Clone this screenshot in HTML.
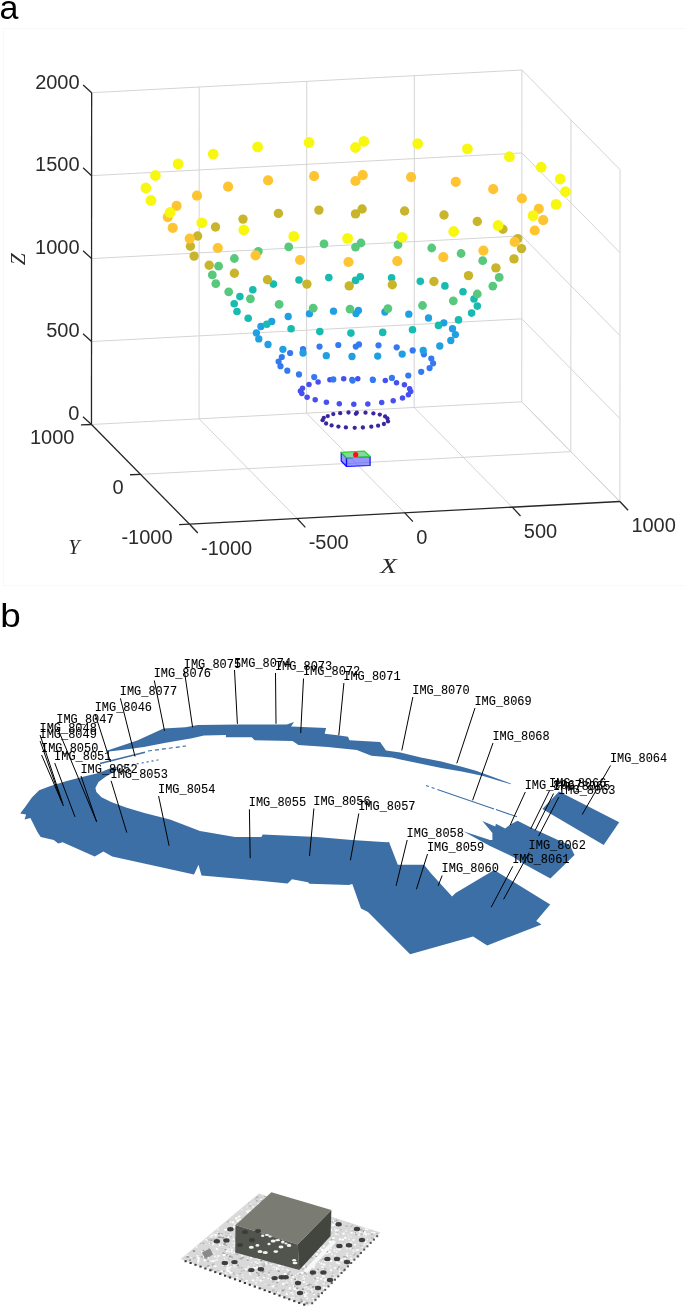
<!DOCTYPE html>
<html><head><meta charset="utf-8"><title>figure</title><style>
html,body{margin:0;padding:0;background:#fff;}
body{width:685px;height:1306px;overflow:hidden;}
svg{display:block;filter:blur(0.4px);}
</style></head><body>
<svg width="685" height="1306" viewBox="0 0 685 1306">
<rect x="3.5" y="28.5" width="682" height="557" fill="none" stroke="#f9f9f9" stroke-width="1"/>
<text x="-0.5" y="19" font-family="Liberation Sans, sans-serif" font-size="34" fill="#000">a</text>
<text transform="translate(0.3,627) scale(1.1,1)" font-family="Liberation Sans, sans-serif" font-size="33.5" fill="#000">b</text>
<line x1="199.05" y1="418.82" x2="199.21" y2="87.03" stroke="#d4d4d4" stroke-width="1.0"/>
<line x1="199.05" y1="418.82" x2="297.16" y2="518.52" stroke="#d4d4d4" stroke-width="1.0"/>
<line x1="306.62" y1="413.15" x2="306.78" y2="81.35" stroke="#d4d4d4" stroke-width="1.0"/>
<line x1="306.62" y1="413.15" x2="404.73" y2="512.85" stroke="#d4d4d4" stroke-width="1.0"/>
<line x1="414.19" y1="407.48" x2="414.35" y2="75.68" stroke="#d4d4d4" stroke-width="1.0"/>
<line x1="414.19" y1="407.48" x2="512.3" y2="507.18" stroke="#d4d4d4" stroke-width="1.0"/>
<line x1="521.76" y1="401.8" x2="521.92" y2="70.0" stroke="#d4d4d4" stroke-width="1.0"/>
<line x1="521.76" y1="401.8" x2="619.88" y2="501.5" stroke="#d4d4d4" stroke-width="1.0"/>
<line x1="91.48" y1="424.5" x2="521.76" y2="401.8" stroke="#d4d4d4" stroke-width="1.0"/>
<line x1="521.76" y1="401.8" x2="619.88" y2="501.5" stroke="#d4d4d4" stroke-width="1.0"/>
<line x1="91.52" y1="341.55" x2="521.8" y2="318.85" stroke="#d4d4d4" stroke-width="1.0"/>
<line x1="521.8" y1="318.85" x2="619.92" y2="418.55" stroke="#d4d4d4" stroke-width="1.0"/>
<line x1="91.56" y1="258.6" x2="521.84" y2="235.9" stroke="#d4d4d4" stroke-width="1.0"/>
<line x1="521.84" y1="235.9" x2="619.96" y2="335.6" stroke="#d4d4d4" stroke-width="1.0"/>
<line x1="91.6" y1="175.65" x2="521.88" y2="152.95" stroke="#d4d4d4" stroke-width="1.0"/>
<line x1="521.88" y1="152.95" x2="620.0" y2="252.65" stroke="#d4d4d4" stroke-width="1.0"/>
<line x1="91.64" y1="92.7" x2="521.92" y2="70.0" stroke="#d4d4d4" stroke-width="1.0"/>
<line x1="521.92" y1="70.0" x2="620.04" y2="169.7" stroke="#d4d4d4" stroke-width="1.0"/>
<line x1="570.82" y1="451.65" x2="570.98" y2="119.85" stroke="#d4d4d4" stroke-width="1.0"/>
<line x1="619.88" y1="501.5" x2="620.04" y2="169.7" stroke="#d4d4d4" stroke-width="1.0"/>
<line x1="140.53" y1="474.35" x2="570.82" y2="451.65" stroke="#d4d4d4" stroke-width="1.0"/>
<line x1="91.48" y1="424.5" x2="91.64" y2="92.7" stroke="#262626" stroke-width="1.3"/>
<line x1="91.48" y1="424.5" x2="189.59" y2="524.2" stroke="#262626" stroke-width="1.3"/>
<line x1="189.59" y1="524.2" x2="619.88" y2="501.5" stroke="#262626" stroke-width="1.3"/>
<line x1="91.48" y1="424.5" x2="82.98" y2="416.7" stroke="#262626" stroke-width="1.3"/>
<line x1="91.52" y1="341.55" x2="83.02" y2="333.75" stroke="#262626" stroke-width="1.3"/>
<line x1="91.56" y1="258.6" x2="83.06" y2="250.8" stroke="#262626" stroke-width="1.3"/>
<line x1="91.6" y1="175.65" x2="83.1" y2="167.85" stroke="#262626" stroke-width="1.3"/>
<line x1="91.64" y1="92.7" x2="83.14" y2="84.9" stroke="#262626" stroke-width="1.3"/>
<line x1="189.59" y1="524.2" x2="179.09" y2="524.6" stroke="#262626" stroke-width="1.3"/>
<line x1="140.53" y1="474.35" x2="130.03" y2="474.75" stroke="#262626" stroke-width="1.3"/>
<line x1="91.48" y1="424.5" x2="80.98" y2="424.9" stroke="#262626" stroke-width="1.3"/>
<line x1="189.59" y1="524.2" x2="197.79" y2="533.0" stroke="#262626" stroke-width="1.3"/>
<line x1="297.16" y1="518.52" x2="305.36" y2="527.3199999999999" stroke="#262626" stroke-width="1.3"/>
<line x1="404.73" y1="512.85" x2="412.93" y2="521.65" stroke="#262626" stroke-width="1.3"/>
<line x1="512.3" y1="507.18" x2="520.5" y2="515.98" stroke="#262626" stroke-width="1.3"/>
<line x1="619.88" y1="501.5" x2="628.08" y2="510.3" stroke="#262626" stroke-width="1.3"/>
<text x="79.48" y="420.3" text-anchor="end" font-family="Liberation Sans, sans-serif" font-size="20" fill="#2b2b2b">0</text>
<text x="79.52" y="337.35" text-anchor="end" font-family="Liberation Sans, sans-serif" font-size="20" fill="#2b2b2b">500</text>
<text x="79.56" y="254.40000000000003" text-anchor="end" font-family="Liberation Sans, sans-serif" font-size="20" fill="#2b2b2b">1000</text>
<text x="79.6" y="171.45000000000002" text-anchor="end" font-family="Liberation Sans, sans-serif" font-size="20" fill="#2b2b2b">1500</text>
<text x="79.64" y="88.5" text-anchor="end" font-family="Liberation Sans, sans-serif" font-size="20" fill="#2b2b2b">2000</text>
<text x="172.59" y="543.7" text-anchor="end" font-family="Liberation Sans, sans-serif" font-size="20" fill="#2b2b2b">-1000</text>
<text x="123.53" y="493.85" text-anchor="end" font-family="Liberation Sans, sans-serif" font-size="20" fill="#2b2b2b">0</text>
<text x="74.48" y="444.0" text-anchor="end" font-family="Liberation Sans, sans-serif" font-size="20" fill="#2b2b2b">1000</text>
<text x="201.09" y="555.0" font-family="Liberation Sans, sans-serif" font-size="20" fill="#2b2b2b">-1000</text>
<text x="308.66" y="549.3199999999999" font-family="Liberation Sans, sans-serif" font-size="20" fill="#2b2b2b">-500</text>
<text x="416.23" y="543.65" font-family="Liberation Sans, sans-serif" font-size="20" fill="#2b2b2b">0</text>
<text x="523.8" y="537.98" font-family="Liberation Sans, sans-serif" font-size="20" fill="#2b2b2b">500</text>
<text x="631.38" y="532.3" font-family="Liberation Sans, sans-serif" font-size="20" fill="#2b2b2b">1000</text>
<text transform="translate(380.2,573) scale(1.3,1)" font-family="Liberation Serif, serif" font-style="italic" font-size="21" fill="#2b2b2b">X</text>
<text x="68.3" y="553.6" font-family="Liberation Serif, serif" font-style="italic" font-size="20.5" fill="#2b2b2b">Y</text>
<text transform="translate(24.6,265.2) rotate(-90)" font-family="Liberation Serif, serif" font-style="italic" font-size="21.5" fill="#2b2b2b">Z</text>
<g fill="#3a27a0"><circle cx="348.5" cy="412.5" r="2.15"/><circle cx="365.5" cy="412.7" r="2.15"/><circle cx="356.8" cy="412.7" r="2.15"/><circle cx="340.2" cy="413.2" r="2.15"/><circle cx="373.4" cy="413.4" r="2.15"/><circle cx="355.9" cy="413.8" r="2.15"/><circle cx="333.3" cy="414.1" r="2.15"/><circle cx="379.8" cy="414.6" r="2.15"/><circle cx="327.8" cy="416.1" r="2.15"/><circle cx="385.1" cy="416.4" r="2.15"/><circle cx="323.8" cy="417.8" r="2.15"/><circle cx="387.4" cy="418.4" r="2.15"/><circle cx="322.6" cy="420.2" r="2.15"/><circle cx="388" cy="421.4" r="2.15"/><circle cx="326.1" cy="423.5" r="2.15"/><circle cx="383.9" cy="424" r="2.15"/><circle cx="331.6" cy="425.4" r="2.15"/><circle cx="378.1" cy="425.7" r="2.15"/><circle cx="338.4" cy="426.6" r="2.15"/><circle cx="371.3" cy="426.7" r="2.15"/><circle cx="345.9" cy="427.4" r="2.15"/><circle cx="362.9" cy="427.5" r="2.15"/><circle cx="354.7" cy="427.8" r="2.15"/></g>
<g fill="#4650f0"><circle cx="357.8" cy="378.7" r="2.75"/><circle cx="343.7" cy="378.7" r="2.75"/><circle cx="372.6" cy="379.2" r="2.75"/><circle cx="352" cy="379.6" r="2.75"/><circle cx="329.9" cy="379.8" r="2.75"/><circle cx="385.3" cy="380.6" r="2.75"/><circle cx="318.1" cy="382.1" r="2.75"/><circle cx="396.5" cy="382.7" r="2.75"/><circle cx="309.0" cy="384.5" r="2.75"/><circle cx="404.4" cy="384.7" r="2.75"/><circle cx="302.5" cy="388.2" r="2.75"/><circle cx="409.6" cy="388.7" r="2.75"/><circle cx="300.4" cy="391.0" r="2.75"/><circle cx="410.7" cy="391.6" r="2.75"/><circle cx="301.8" cy="393.5" r="2.75"/><circle cx="408.4" cy="394.8" r="2.75"/><circle cx="307.1" cy="397.3" r="2.75"/><circle cx="402.5" cy="398.0" r="2.75"/><circle cx="315.2" cy="399.7" r="2.75"/><circle cx="393.2" cy="400.7" r="2.75"/><circle cx="326.4" cy="402.2" r="2.75"/><circle cx="381.7" cy="402.6" r="2.75"/><circle cx="339.3" cy="403.7" r="2.75"/><circle cx="367.8" cy="403.9" r="2.75"/><circle cx="353.8" cy="404.3" r="2.75"/></g>
<g fill="#3579f0"><circle cx="359" cy="344.4" r="3.1"/><circle cx="338.3" cy="345" r="3.1"/><circle cx="378.5" cy="345.3" r="3.1"/><circle cx="355.8" cy="346.6" r="3.1"/><circle cx="319.5" cy="346.6" r="3.1"/><circle cx="396.7" cy="347.3" r="3.1"/><circle cx="303" cy="349" r="3.1"/><circle cx="412.7" cy="350.4" r="3.1"/><circle cx="290.1" cy="353" r="3.1"/><circle cx="423.9" cy="354.3" r="3.1"/><circle cx="281.8" cy="357" r="3.1"/><circle cx="431.3" cy="358.5" r="3.1"/><circle cx="278.6" cy="361.5" r="3.1"/><circle cx="433.1" cy="363.3" r="3.1"/><circle cx="280.5" cy="366.2" r="3.1"/><circle cx="429.6" cy="368.1" r="3.1"/><circle cx="287.3" cy="370.7" r="3.1"/><circle cx="421.2" cy="371.8" r="3.1"/><circle cx="299" cy="374.4" r="3.1"/><circle cx="408.3" cy="375.5" r="3.1"/><circle cx="314.2" cy="377.1" r="3.1"/><circle cx="391.9" cy="377.9" r="3.1"/><circle cx="333.3" cy="379.4" r="3.1"/><circle cx="372.9" cy="380.0" r="3.1"/><circle cx="352.6" cy="380.6" r="3.1"/></g>
<g fill="#20a0e2"><circle cx="358.4" cy="310.4" r="3.65"/><circle cx="333.5" cy="311.2" r="3.65"/><circle cx="384.9" cy="312.0" r="3.65"/><circle cx="356" cy="313.6" r="3.65"/><circle cx="309.4" cy="313.7" r="3.65"/><circle cx="408.8" cy="314.2" r="3.65"/><circle cx="288.2" cy="316.5" r="3.65"/><circle cx="428.5" cy="318.0" r="3.65"/><circle cx="271.7" cy="321.4" r="3.65"/><circle cx="443.8" cy="322.8" r="3.65"/><circle cx="260.9" cy="326.5" r="3.65"/><circle cx="452.5" cy="328.7" r="3.65"/><circle cx="256.4" cy="332.9" r="3.65"/><circle cx="455.4" cy="334.6" r="3.65"/><circle cx="258.8" cy="338.9" r="3.65"/><circle cx="450.8" cy="340.5" r="3.65"/><circle cx="268" cy="344.5" r="3.65"/><circle cx="439.8" cy="346.0" r="3.65"/><circle cx="282.9" cy="349.3" r="3.65"/><circle cx="423.2" cy="350.4" r="3.65"/><circle cx="303" cy="353" r="3.65"/><circle cx="402.2" cy="354.1" r="3.65"/><circle cx="326.3" cy="355.7" r="3.65"/><circle cx="377.7" cy="356.1" r="3.65"/><circle cx="352" cy="356.5" r="3.65"/></g>
<g fill="#17bbb0"><circle cx="360.3" cy="276.7" r="3.8"/><circle cx="328.8" cy="277.6" r="3.8"/><circle cx="391.6" cy="277.8" r="3.8"/><circle cx="299.0" cy="280.0" r="3.8"/><circle cx="355.5" cy="280.4" r="3.8"/><circle cx="420.3" cy="281.3" r="3.8"/><circle cx="273.4" cy="284.1" r="3.8"/><circle cx="444.9" cy="285.9" r="3.8"/><circle cx="252.8" cy="289.8" r="3.8"/><circle cx="463.0" cy="291.8" r="3.8"/><circle cx="239.9" cy="296.6" r="3.8"/><circle cx="474.0" cy="299.0" r="3.8"/><circle cx="234.2" cy="303.8" r="3.8"/><circle cx="477.3" cy="306.1" r="3.8"/><circle cx="237.0" cy="311.5" r="3.8"/><circle cx="471.6" cy="313.1" r="3.8"/><circle cx="248.2" cy="318.2" r="3.8"/><circle cx="458.5" cy="319.9" r="3.8"/><circle cx="266.8" cy="324.2" r="3.8"/><circle cx="438.5" cy="325.4" r="3.8"/><circle cx="291.1" cy="328.8" r="3.8"/><circle cx="412.5" cy="329.8" r="3.8"/><circle cx="319.8" cy="331.6" r="3.8"/><circle cx="382.7" cy="332.4" r="3.8"/><circle cx="350.9" cy="333.1" r="3.8"/></g>
<g fill="#58c87c"><circle cx="361.0" cy="243.0" r="4.4"/><circle cx="324.0" cy="243.8" r="4.4"/><circle cx="398.0" cy="244.7" r="4.4"/><circle cx="288.7" cy="246.9" r="4.4"/><circle cx="355.5" cy="247.1" r="4.4"/><circle cx="431.7" cy="248.0" r="4.4"/><circle cx="258.3" cy="251.3" r="4.4"/><circle cx="461.1" cy="253.5" r="4.4"/><circle cx="234.4" cy="258.5" r="4.4"/><circle cx="482.7" cy="260.7" r="4.4"/><circle cx="218.6" cy="266.2" r="4.4"/><circle cx="212.3" cy="274.9" r="4.4"/><circle cx="499.2" cy="277.3" r="4.4"/><circle cx="215.8" cy="283.7" r="4.4"/><circle cx="492.8" cy="286.1" r="4.4"/><circle cx="228.7" cy="291.8" r="4.4"/><circle cx="477.3" cy="294.0" r="4.4"/><circle cx="250.4" cy="298.8" r="4.4"/><circle cx="453.3" cy="300.8" r="4.4"/><circle cx="279.1" cy="304.3" r="4.4"/><circle cx="422.5" cy="305.5" r="4.4"/><circle cx="313.2" cy="308.2" r="4.4"/><circle cx="387.9" cy="308.6" r="4.4"/><circle cx="350.0" cy="309.1" r="4.4"/></g>
<g fill="#c8b52c"><circle cx="362.1" cy="209.0" r="4.7"/><circle cx="318.9" cy="210.1" r="4.7"/><circle cx="404.6" cy="211.0" r="4.7"/><circle cx="278.4" cy="213.4" r="4.7"/><circle cx="355.5" cy="213.9" r="4.7"/><circle cx="444.0" cy="215.0" r="4.7"/><circle cx="243.0" cy="219.1" r="4.7"/><circle cx="477.3" cy="221.5" r="4.7"/><circle cx="215.5" cy="227" r="4.7"/><circle cx="502.9" cy="229.2" r="4.7"/><circle cx="197.6" cy="236.0" r="4.7"/><circle cx="517.8" cy="238.6" r="4.7"/><circle cx="190.4" cy="246.2" r="4.7"/><circle cx="521.5" cy="248.6" r="4.7"/><circle cx="194.1" cy="256.1" r="4.7"/><circle cx="514.0" cy="258.9" r="4.7"/><circle cx="209.2" cy="265.3" r="4.7"/><circle cx="495.9" cy="267.9" r="4.7"/><circle cx="234.4" cy="273.2" r="4.7"/><circle cx="468.5" cy="275.6" r="4.7"/><circle cx="267.5" cy="279.7" r="4.7"/><circle cx="433.9" cy="281.5" r="4.7"/><circle cx="306.9" cy="284.1" r="4.7"/><circle cx="392.3" cy="284.8" r="4.7"/><circle cx="349.2" cy="285.9" r="4.7"/></g>
<g fill="#fec432"><circle cx="362.7" cy="175.1" r="5.1"/><circle cx="314.1" cy="176.2" r="5.1"/><circle cx="411.1" cy="177.1" r="5.1"/><circle cx="268.1" cy="180.4" r="5.1"/><circle cx="355.5" cy="181.0" r="5.1"/><circle cx="455.8" cy="181.9" r="5.1"/><circle cx="228.1" cy="186.7" r="5.1"/><circle cx="493.2" cy="189.1" r="5.1"/><circle cx="197.0" cy="195.7" r="5.1"/><circle cx="521.9" cy="198.5" r="5.1"/><circle cx="176.6" cy="205.8" r="5.1"/><circle cx="538.8" cy="208.8" r="5.1"/><circle cx="167.8" cy="217.1" r="5.1"/><circle cx="543.2" cy="220.2" r="5.1"/><circle cx="172.7" cy="227.8" r="5.1"/><circle cx="534.7" cy="230.5" r="5.1"/><circle cx="189.7" cy="238.6" r="5.1"/><circle cx="514.7" cy="241.9" r="5.1"/><circle cx="217.8" cy="248.0" r="5.1"/><circle cx="483.4" cy="250.6" r="5.1"/><circle cx="255.6" cy="255.4" r="5.1"/><circle cx="443.3" cy="257.2" r="5.1"/><circle cx="300.1" cy="260.0" r="5.1"/><circle cx="397.3" cy="261.1" r="5.1"/><circle cx="348.5" cy="262.0" r="5.1"/></g>
<g fill="#f7f70f"><circle cx="363.8" cy="141.4" r="5.4"/><circle cx="309.1" cy="142.5" r="5.4"/><circle cx="417.7" cy="143.6" r="5.4"/><circle cx="257.6" cy="146.9" r="5.4"/><circle cx="355.5" cy="147.5" r="5.4"/><circle cx="467.4" cy="148.8" r="5.4"/><circle cx="213.2" cy="154.1" r="5.4"/><circle cx="509.4" cy="156.7" r="5.4"/><circle cx="178.1" cy="163.9" r="5.4"/><circle cx="541.2" cy="167.2" r="5.4"/><circle cx="155.4" cy="175.5" r="5.4"/><circle cx="560.2" cy="179.0" r="5.4"/><circle cx="145.9" cy="188.0" r="5.4"/><circle cx="565.5" cy="191.7" r="5.4"/><circle cx="151.0" cy="200.5" r="5.4"/><circle cx="556.1" cy="204.4" r="5.4"/><circle cx="170.0" cy="212.5" r="5.4"/><circle cx="533.1" cy="215.6" r="5.4"/><circle cx="201.8" cy="222.8" r="5.4"/><circle cx="498.1" cy="225.5" r="5.4"/><circle cx="243.8" cy="230" r="5.4"/><circle cx="453.7" cy="231.5" r="5.4"/><circle cx="293.8" cy="236.4" r="5.4"/><circle cx="402.1" cy="237.3" r="5.4"/><circle cx="347.6" cy="238.4" r="5.4"/></g>
<g stroke-width="1.2" stroke-linejoin="round">
<polygon points="341.2,452.3 346.5,457.8 346.5,466.5 341.2,461" fill="#5050ff" fill-opacity="0.6" stroke="#1010ff"/>
<polygon points="346.5,457.8 370.1,456.5 370.1,465.5 346.5,466.5" fill="#5050ff" fill-opacity="0.6" stroke="#1010ff"/>
<polygon points="341.2,452.3 364.4,451.2 370.1,456.5 346.5,457.8" fill="#70c890" fill-opacity="0.8" stroke="#22dd22"/>
<circle cx="355.7" cy="454.7" r="2.6" fill="#ff1010"/>
</g>
<polygon points="105,751 108.8,749.9 137.2,740.5 163.5,728.5 181,727.4 185.5,727.3 197.8,724.9 240,724.5 286.7,724.5 294,722.1 291.1,726.5 326.1,728 324.7,733.8 337.8,735.3 348,736.7 349.5,740.2 380.1,742 386,750.5 400.4,752.4 420.9,757.5 441.3,761.6 461.7,766.7 476,770.8 510.8,783.6 510.8,784.2 482.2,775.8 461.7,771.6 441.3,767.9 420.9,763.8 400.4,759.6 391.8,757.6 371.4,755.7 356.8,749.9 327.6,746.9 298.4,744.9 292.6,741.1 254.6,740.2 251.7,737.3 225.9,737.2 225.9,735 204,735.5 192,738.3 165.7,742.7 143.8,747.1 121.9,749.9 108.8,751.5" fill="#3c6fa6"/>
<polygon points="117,766.8 109.7,768.6 99.5,772.7 83.1,776.8 66.8,780.9 50.4,786 39.2,790.2 31.9,797.5 24.6,807.7 20.2,813.6 26.1,814.5 24.6,819.4 30.4,818 37.7,832.6 40.7,836.9 53.8,839.9 58.2,843.6 62.6,842.2 94.7,856.5 103.4,851.5 112.2,856.5 146.4,864 194,874.5 198.5,864.8 201.5,875.5 243.8,879.3 287.6,883.6 292,879.3 308,882.2 309.5,883.8 348.9,885.1 352.3,884.1 361,908.6 368,912.1 410.1,954.2 473.1,936.6 487.2,945.4 541.5,924.4 536.2,920.9 550.2,904.4 494.2,870.1 455.6,892.9 452.1,896.4 431.1,873.6 424.1,864.8 397.8,864.8 389,842 386.9,842.2 351.8,839.9 316.8,836.9 262.8,834.6 261.3,836.9 235,836.9 200,831 170,819.5 144.4,813 126,807.6 111.7,802.3 101.5,797.2 96.4,792.1 95.4,788 98.5,781.9 105.6,776.8 115.8,770.7" fill="#3c6fa6"/>
<polygon points="482.4,821.1 495.3,826.6 495.9,823.7 505.2,828.4 509.9,824.8 517.5,820.8 535,829.5 570,845.4 574.5,855.1 550.4,878.4 523.4,863.8 513.4,857 490,845.9 463.2,831.3 490,840 492.4,840 492.4,833" fill="#3c6fa6"/>
<polygon points="559,791.6 619.2,822.2 603.7,845 542.4,809.1" fill="#3c6fa6"/>
<g stroke="#3c6fa6" fill="none">
<line x1="100" y1="763.5" x2="145" y2="752.3" stroke-width="1.6"/>
<line x1="148" y1="751" x2="186" y2="746" stroke-width="1.2" stroke-dasharray="4 3"/>
<line x1="122" y1="766.6" x2="161" y2="759.4" stroke-width="1.2" stroke-dasharray="2 3"/>
<line x1="426" y1="785.6" x2="517" y2="816.8" stroke-width="1.1" stroke-dasharray="3 3 3 3 60 2 200"/>
</g>
<g stroke="#000" stroke-width="1">
<line x1="154.29999999999998" y1="680.5" x2="164.5" y2="730.8"/>
<line x1="184.4" y1="671.0" x2="192.6" y2="727.3"/>
<line x1="234.5" y1="670.0" x2="237.4" y2="723.8"/>
<line x1="275.5" y1="673.0" x2="276" y2="723.8"/>
<line x1="303.5" y1="678.5" x2="300.7" y2="733"/>
<line x1="343.90000000000003" y1="683.0" x2="338.8" y2="735.3"/>
<line x1="412.90000000000003" y1="697.0" x2="401.8" y2="750.4"/>
<line x1="475.0" y1="708.0" x2="456.8" y2="763.4"/>
<line x1="493.0" y1="743.0" x2="472.6" y2="800.3"/>
<line x1="120.39999999999999" y1="698.3" x2="135" y2="756.5"/>
<line x1="95.3" y1="714.6" x2="110.4" y2="761.8"/>
<line x1="56.9" y1="726.5" x2="96.6" y2="821.7"/>
<line x1="40.1" y1="735.0" x2="62.9" y2="804"/>
<line x1="40.1" y1="741.0" x2="61.3" y2="800.8"/>
<line x1="41.6" y1="755.0" x2="63.5" y2="806"/>
<line x1="54.7" y1="763.0" x2="75" y2="816.9"/>
<line x1="81.0" y1="776.0" x2="96.6" y2="821.7"/>
<line x1="111.1" y1="780.8" x2="126.8" y2="832.6"/>
<line x1="158.6" y1="796.0" x2="169.1" y2="845.7"/>
<line x1="249.4" y1="809.3" x2="250.2" y2="858.2"/>
<line x1="313.90000000000003" y1="808.5" x2="309.5" y2="855.9"/>
<line x1="358.8" y1="813.5" x2="350.4" y2="860.3"/>
<line x1="407.20000000000005" y1="840.0" x2="396.1" y2="885.8"/>
<line x1="427.5" y1="854.0" x2="416.4" y2="889.3"/>
<line x1="442.20000000000005" y1="875.5" x2="438.1" y2="885.8"/>
<line x1="512.8000000000001" y1="866.3" x2="491.2" y2="907.2"/>
<line x1="529.2" y1="852.5" x2="503.6" y2="899.3"/>
<line x1="610.5" y1="765.5" x2="582.2" y2="814.5"/>
<line x1="525.3000000000001" y1="792.0" x2="510.2" y2="825.1"/>
<line x1="549.6" y1="790.5" x2="530.6" y2="829"/>
<line x1="553.6" y1="793.5" x2="535.2" y2="830.3"/>
<line x1="558.8000000000001" y1="797.2" x2="538.5" y2="836.2"/>
</g>
<g font-family="Liberation Mono, monospace" font-size="13.2" fill="#000" stroke="#000" stroke-width="0.1">
<text x="153.7" y="677.2" textLength="57.3" lengthAdjust="spacingAndGlyphs">IMG_8076</text>
<text x="183.8" y="667.7" textLength="57.3" lengthAdjust="spacingAndGlyphs">IMG_8075</text>
<text x="233.9" y="666.7" textLength="57.3" lengthAdjust="spacingAndGlyphs">IMG_8074</text>
<text x="274.9" y="669.7" textLength="57.3" lengthAdjust="spacingAndGlyphs">IMG_8073</text>
<text x="302.9" y="675.2" textLength="57.3" lengthAdjust="spacingAndGlyphs">IMG_8072</text>
<text x="343.3" y="679.7" textLength="57.3" lengthAdjust="spacingAndGlyphs">IMG_8071</text>
<text x="412.3" y="693.7" textLength="57.3" lengthAdjust="spacingAndGlyphs">IMG_8070</text>
<text x="474.4" y="704.7" textLength="57.3" lengthAdjust="spacingAndGlyphs">IMG_8069</text>
<text x="492.4" y="739.7" textLength="57.3" lengthAdjust="spacingAndGlyphs">IMG_8068</text>
<text x="119.8" y="695.0" textLength="57.3" lengthAdjust="spacingAndGlyphs">IMG_8077</text>
<text x="94.7" y="711.3" textLength="57.3" lengthAdjust="spacingAndGlyphs">IMG_8046</text>
<text x="56.3" y="723.2" textLength="57.3" lengthAdjust="spacingAndGlyphs">IMG_8047</text>
<text x="39.5" y="731.7" textLength="57.3" lengthAdjust="spacingAndGlyphs">IMG_8048</text>
<text x="39.5" y="737.7" textLength="57.3" lengthAdjust="spacingAndGlyphs">IMG_8049</text>
<text x="41" y="751.7" textLength="57.3" lengthAdjust="spacingAndGlyphs">IMG_8050</text>
<text x="54.1" y="759.7" textLength="57.3" lengthAdjust="spacingAndGlyphs">IMG_8051</text>
<text x="80.4" y="772.7" textLength="57.3" lengthAdjust="spacingAndGlyphs">IMG_8052</text>
<text x="110.5" y="777.5" textLength="57.3" lengthAdjust="spacingAndGlyphs">IMG_8053</text>
<text x="158" y="792.7" textLength="57.3" lengthAdjust="spacingAndGlyphs">IMG_8054</text>
<text x="248.8" y="806.0" textLength="57.3" lengthAdjust="spacingAndGlyphs">IMG_8055</text>
<text x="313.3" y="805.2" textLength="57.3" lengthAdjust="spacingAndGlyphs">IMG_8056</text>
<text x="358.2" y="810.2" textLength="57.3" lengthAdjust="spacingAndGlyphs">IMG_8057</text>
<text x="406.6" y="836.7" textLength="57.3" lengthAdjust="spacingAndGlyphs">IMG_8058</text>
<text x="426.9" y="850.7" textLength="57.3" lengthAdjust="spacingAndGlyphs">IMG_8059</text>
<text x="441.6" y="872.2" textLength="57.3" lengthAdjust="spacingAndGlyphs">IMG_8060</text>
<text x="512.2" y="863.0" textLength="57.3" lengthAdjust="spacingAndGlyphs">IMG_8061</text>
<text x="528.6" y="849.2" textLength="57.3" lengthAdjust="spacingAndGlyphs">IMG_8062</text>
<text x="609.9" y="762.2" textLength="57.3" lengthAdjust="spacingAndGlyphs">IMG_8064</text>
<text x="524.7" y="788.7" textLength="57.3" lengthAdjust="spacingAndGlyphs">IMG_8067</text>
<text x="549" y="787.2" textLength="57.3" lengthAdjust="spacingAndGlyphs">IMG_8066</text>
<text x="553" y="790.2" textLength="57.3" lengthAdjust="spacingAndGlyphs">IMG_8065</text>
<text x="558.2" y="793.9" textLength="57.3" lengthAdjust="spacingAndGlyphs">IMG_8063</text>
</g>
<polygon points="180.6,1258.9 259.0,1193.5 380.4,1232.4 309.0,1306.0" fill="#d9d9d9"/>
<g><rect x="280.8" y="1241.5" width="2.4" height="1.9" fill="#ffffff"/><rect x="289.8" y="1242.0" width="2.4" height="1.9" fill="#f5f5f5"/><rect x="320.1" y="1232.6" width="2.4" height="1.9" fill="#ffffff"/><rect x="226.5" y="1267.0" width="2.4" height="1.9" fill="#ffffff"/><rect x="351.3" y="1256.4" width="1.2" height="1.0" fill="#f5f5f5"/><rect x="292.0" y="1293.5" width="1.6" height="1.3" fill="#ffffff"/><rect x="336.9" y="1256.8" width="2.0" height="1.6" fill="#ffffff"/><rect x="300.6" y="1221.5" width="2.0" height="1.6" fill="#eeeeee"/><rect x="294.4" y="1236.4" width="2.0" height="1.6" fill="#ffffff"/><rect x="274.5" y="1240.2" width="2.0" height="1.6" fill="#ffffff"/><rect x="238.6" y="1258.1" width="1.2" height="1.0" fill="#b5b5b5"/><rect x="249.3" y="1211.7" width="1.2" height="1.0" fill="#c4c4c4"/><rect x="317.3" y="1270.8" width="1.2" height="1.0" fill="#ffffff"/><rect x="279.3" y="1206.7" width="2.4" height="1.9" fill="#ffffff"/><rect x="282.5" y="1228.0" width="1.2" height="1.0" fill="#c4c4c4"/><rect x="268.1" y="1271.7" width="2.0" height="1.6" fill="#b5b5b5"/><rect x="217.7" y="1241.0" width="1.2" height="1.0" fill="#c4c4c4"/><rect x="252.6" y="1218.2" width="1.2" height="1.0" fill="#ffffff"/><rect x="276.9" y="1247.1" width="2.4" height="1.9" fill="#eeeeee"/><rect x="319.7" y="1214.3" width="2.4" height="1.9" fill="#f5f5f5"/><rect x="271.9" y="1281.0" width="1.6" height="1.3" fill="#c4c4c4"/><rect x="248.4" y="1202.4" width="1.2" height="1.0" fill="#b5b5b5"/><rect x="238.0" y="1242.4" width="1.2" height="1.0" fill="#ffffff"/><rect x="322.9" y="1289.8" width="1.2" height="1.0" fill="#b5b5b5"/><rect x="303.8" y="1271.7" width="2.4" height="1.9" fill="#b5b5b5"/><rect x="197.0" y="1256.4" width="1.2" height="1.0" fill="#eeeeee"/><rect x="285.4" y="1261.1" width="1.6" height="1.3" fill="#ffffff"/><rect x="338.4" y="1268.6" width="2.4" height="1.9" fill="#f5f5f5"/><rect x="216.0" y="1257.2" width="1.6" height="1.3" fill="#eeeeee"/><rect x="285.4" y="1281.8" width="2.4" height="1.9" fill="#eeeeee"/><rect x="337.5" y="1256.6" width="1.2" height="1.0" fill="#c4c4c4"/><rect x="196.9" y="1261.2" width="1.6" height="1.3" fill="#b5b5b5"/><rect x="304.3" y="1265.8" width="2.4" height="1.9" fill="#c4c4c4"/><rect x="231.7" y="1260.8" width="1.6" height="1.3" fill="#ffffff"/><rect x="252.9" y="1232.0" width="2.0" height="1.6" fill="#ffffff"/><rect x="278.2" y="1207.5" width="1.2" height="1.0" fill="#ffffff"/><rect x="249.3" y="1241.4" width="1.2" height="1.0" fill="#ffffff"/><rect x="231.7" y="1242.5" width="1.2" height="1.0" fill="#f5f5f5"/><rect x="294.7" y="1215.0" width="1.6" height="1.3" fill="#9a9a9a"/><rect x="324.9" y="1221.8" width="2.0" height="1.6" fill="#ffffff"/><rect x="341.4" y="1223.4" width="1.2" height="1.0" fill="#ffffff"/><rect x="297.3" y="1231.0" width="1.6" height="1.3" fill="#9a9a9a"/><rect x="314.3" y="1300.4" width="1.2" height="1.0" fill="#9a9a9a"/><rect x="349.3" y="1247.7" width="2.0" height="1.6" fill="#f5f5f5"/><rect x="277.8" y="1228.7" width="2.4" height="1.9" fill="#ffffff"/><rect x="304.0" y="1301.2" width="1.2" height="1.0" fill="#ffffff"/><rect x="289.1" y="1261.4" width="1.2" height="1.0" fill="#ffffff"/><rect x="240.7" y="1220.4" width="2.4" height="1.9" fill="#b5b5b5"/><rect x="302.6" y="1265.5" width="2.4" height="1.9" fill="#ffffff"/><rect x="280.7" y="1243.2" width="2.0" height="1.6" fill="#ffffff"/><rect x="293.5" y="1253.4" width="1.2" height="1.0" fill="#eeeeee"/><rect x="290.5" y="1239.6" width="2.0" height="1.6" fill="#ffffff"/><rect x="322.2" y="1274.4" width="1.6" height="1.3" fill="#f5f5f5"/><rect x="303.5" y="1230.8" width="2.4" height="1.9" fill="#9a9a9a"/><rect x="262.7" y="1265.6" width="2.0" height="1.6" fill="#c4c4c4"/><rect x="239.3" y="1239.4" width="1.6" height="1.3" fill="#eeeeee"/><rect x="274.1" y="1237.0" width="1.6" height="1.3" fill="#9a9a9a"/><rect x="236.5" y="1232.3" width="1.2" height="1.0" fill="#ffffff"/><rect x="322.4" y="1283.4" width="1.2" height="1.0" fill="#f5f5f5"/><rect x="259.2" y="1261.1" width="2.4" height="1.9" fill="#eeeeee"/><rect x="269.1" y="1241.3" width="2.4" height="1.9" fill="#9a9a9a"/><rect x="284.8" y="1217.6" width="1.2" height="1.0" fill="#b5b5b5"/><rect x="288.4" y="1270.9" width="2.0" height="1.6" fill="#9a9a9a"/><rect x="305.6" y="1249.6" width="2.4" height="1.9" fill="#f5f5f5"/><rect x="240.9" y="1278.6" width="1.6" height="1.3" fill="#b5b5b5"/><rect x="338.8" y="1238.4" width="2.4" height="1.9" fill="#ffffff"/><rect x="236.2" y="1228.5" width="1.2" height="1.0" fill="#9a9a9a"/><rect x="283.2" y="1277.0" width="2.0" height="1.6" fill="#ffffff"/><rect x="204.4" y="1266.6" width="1.2" height="1.0" fill="#ffffff"/><rect x="224.6" y="1249.1" width="1.6" height="1.3" fill="#9a9a9a"/><rect x="291.0" y="1223.1" width="1.2" height="1.0" fill="#eeeeee"/><rect x="300.7" y="1216.8" width="1.6" height="1.3" fill="#c4c4c4"/><rect x="253.3" y="1266.5" width="2.4" height="1.9" fill="#ffffff"/><rect x="299.9" y="1239.2" width="2.4" height="1.9" fill="#9a9a9a"/><rect x="297.3" y="1207.4" width="1.2" height="1.0" fill="#ffffff"/><rect x="277.2" y="1208.5" width="2.0" height="1.6" fill="#ffffff"/><rect x="308.6" y="1229.0" width="2.0" height="1.6" fill="#9a9a9a"/><rect x="359.1" y="1239.4" width="1.2" height="1.0" fill="#9a9a9a"/><rect x="212.1" y="1238.2" width="2.0" height="1.6" fill="#c4c4c4"/><rect x="245.3" y="1279.9" width="2.4" height="1.9" fill="#ffffff"/><rect x="295.9" y="1284.1" width="1.6" height="1.3" fill="#9a9a9a"/><rect x="316.1" y="1211.8" width="2.4" height="1.9" fill="#ffffff"/><rect x="306.2" y="1237.8" width="2.4" height="1.9" fill="#eeeeee"/><rect x="269.9" y="1263.5" width="2.0" height="1.6" fill="#f5f5f5"/><rect x="249.7" y="1247.7" width="2.0" height="1.6" fill="#eeeeee"/><rect x="360.0" y="1228.9" width="2.4" height="1.9" fill="#b5b5b5"/><rect x="247.7" y="1232.4" width="2.4" height="1.9" fill="#ffffff"/><rect x="260.0" y="1196.6" width="1.2" height="1.0" fill="#c4c4c4"/><rect x="295.4" y="1234.1" width="2.4" height="1.9" fill="#ffffff"/><rect x="306.0" y="1212.6" width="2.0" height="1.6" fill="#c4c4c4"/><rect x="250.0" y="1237.3" width="2.4" height="1.9" fill="#9a9a9a"/><rect x="363.7" y="1233.2" width="2.0" height="1.6" fill="#ffffff"/><rect x="227.1" y="1236.2" width="2.0" height="1.6" fill="#ffffff"/><rect x="257.6" y="1213.2" width="1.2" height="1.0" fill="#ffffff"/><rect x="223.0" y="1252.8" width="2.0" height="1.6" fill="#b5b5b5"/><rect x="291.4" y="1275.5" width="1.2" height="1.0" fill="#ffffff"/><rect x="288.4" y="1242.0" width="1.6" height="1.3" fill="#b5b5b5"/><rect x="335.2" y="1229.4" width="2.4" height="1.9" fill="#ffffff"/><rect x="322.9" y="1230.5" width="1.6" height="1.3" fill="#f5f5f5"/><rect x="330.2" y="1260.9" width="1.6" height="1.3" fill="#eeeeee"/><rect x="334.2" y="1254.7" width="1.6" height="1.3" fill="#f5f5f5"/><rect x="343.3" y="1256.2" width="1.6" height="1.3" fill="#9a9a9a"/><rect x="245.2" y="1252.4" width="1.6" height="1.3" fill="#eeeeee"/><rect x="294.7" y="1281.6" width="1.6" height="1.3" fill="#ffffff"/><rect x="304.3" y="1291.1" width="2.0" height="1.6" fill="#ffffff"/><rect x="263.3" y="1247.4" width="1.6" height="1.3" fill="#c4c4c4"/><rect x="254.7" y="1226.2" width="1.2" height="1.0" fill="#ffffff"/><rect x="258.9" y="1222.6" width="1.2" height="1.0" fill="#9a9a9a"/><rect x="317.7" y="1246.9" width="1.6" height="1.3" fill="#9a9a9a"/><rect x="318.8" y="1262.0" width="1.2" height="1.0" fill="#ffffff"/><rect x="323.3" y="1250.8" width="1.6" height="1.3" fill="#ffffff"/><rect x="213.8" y="1260.1" width="1.6" height="1.3" fill="#f5f5f5"/><rect x="374.0" y="1237.4" width="1.2" height="1.0" fill="#ffffff"/><rect x="250.6" y="1219.9" width="1.2" height="1.0" fill="#ffffff"/><rect x="258.1" y="1242.5" width="2.4" height="1.9" fill="#9a9a9a"/><rect x="236.3" y="1243.7" width="1.6" height="1.3" fill="#ffffff"/><rect x="238.9" y="1237.1" width="2.4" height="1.9" fill="#9a9a9a"/><rect x="342.5" y="1258.2" width="1.2" height="1.0" fill="#ffffff"/><rect x="228.6" y="1268.4" width="1.6" height="1.3" fill="#c4c4c4"/><rect x="318.9" y="1214.3" width="2.0" height="1.6" fill="#b5b5b5"/><rect x="351.2" y="1247.6" width="2.4" height="1.9" fill="#f5f5f5"/><rect x="223.3" y="1243.2" width="2.4" height="1.9" fill="#9a9a9a"/><rect x="308.5" y="1265.9" width="1.2" height="1.0" fill="#f5f5f5"/><rect x="304.9" y="1274.8" width="1.2" height="1.0" fill="#ffffff"/><rect x="366.1" y="1228.7" width="1.6" height="1.3" fill="#ffffff"/><rect x="289.2" y="1206.7" width="2.0" height="1.6" fill="#b5b5b5"/><rect x="239.6" y="1241.8" width="1.2" height="1.0" fill="#f5f5f5"/><rect x="306.3" y="1208.7" width="1.2" height="1.0" fill="#eeeeee"/><rect x="350.0" y="1224.6" width="1.2" height="1.0" fill="#ffffff"/><rect x="314.4" y="1235.8" width="2.4" height="1.9" fill="#b5b5b5"/><rect x="236.0" y="1274.3" width="2.4" height="1.9" fill="#eeeeee"/><rect x="202.2" y="1242.5" width="2.0" height="1.6" fill="#b5b5b5"/><rect x="289.1" y="1249.3" width="2.4" height="1.9" fill="#ffffff"/><rect x="290.1" y="1291.5" width="2.4" height="1.9" fill="#ffffff"/><rect x="311.5" y="1291.0" width="1.6" height="1.3" fill="#ffffff"/><rect x="329.7" y="1260.0" width="2.4" height="1.9" fill="#ffffff"/><rect x="332.2" y="1272.6" width="2.0" height="1.6" fill="#c4c4c4"/><rect x="249.2" y="1256.6" width="2.0" height="1.6" fill="#b5b5b5"/><rect x="321.0" y="1237.2" width="1.2" height="1.0" fill="#ffffff"/><rect x="322.5" y="1253.3" width="2.4" height="1.9" fill="#f5f5f5"/><rect x="306.0" y="1266.5" width="2.4" height="1.9" fill="#9a9a9a"/><rect x="264.2" y="1196.2" width="1.2" height="1.0" fill="#9a9a9a"/><rect x="299.3" y="1280.4" width="2.0" height="1.6" fill="#ffffff"/><rect x="323.0" y="1286.9" width="2.4" height="1.9" fill="#ffffff"/><rect x="273.4" y="1201.8" width="1.2" height="1.0" fill="#eeeeee"/><rect x="219.6" y="1233.8" width="1.6" height="1.3" fill="#ffffff"/><rect x="317.0" y="1273.6" width="1.2" height="1.0" fill="#f5f5f5"/><rect x="237.9" y="1266.5" width="2.4" height="1.9" fill="#c4c4c4"/><rect x="305.2" y="1242.2" width="2.0" height="1.6" fill="#c4c4c4"/><rect x="319.2" y="1257.4" width="2.0" height="1.6" fill="#f5f5f5"/><rect x="292.3" y="1276.5" width="2.0" height="1.6" fill="#ffffff"/><rect x="326.9" y="1250.9" width="2.0" height="1.6" fill="#9a9a9a"/><rect x="267.9" y="1225.4" width="2.0" height="1.6" fill="#eeeeee"/><rect x="291.2" y="1280.8" width="1.6" height="1.3" fill="#eeeeee"/><rect x="296.3" y="1297.4" width="1.2" height="1.0" fill="#ffffff"/><rect x="247.9" y="1242.9" width="1.2" height="1.0" fill="#ffffff"/><rect x="230.6" y="1250.7" width="1.6" height="1.3" fill="#ffffff"/><rect x="298.3" y="1240.7" width="2.4" height="1.9" fill="#9a9a9a"/><rect x="257.9" y="1266.8" width="2.4" height="1.9" fill="#9a9a9a"/><rect x="337.6" y="1234.0" width="1.2" height="1.0" fill="#ffffff"/><rect x="299.9" y="1223.2" width="2.4" height="1.9" fill="#eeeeee"/><rect x="254.6" y="1261.1" width="2.0" height="1.6" fill="#f5f5f5"/><rect x="265.0" y="1210.4" width="2.0" height="1.6" fill="#9a9a9a"/><rect x="306.7" y="1232.6" width="2.4" height="1.9" fill="#f5f5f5"/><rect x="307.4" y="1248.6" width="2.0" height="1.6" fill="#ffffff"/><rect x="197.1" y="1257.1" width="2.4" height="1.9" fill="#ffffff"/><rect x="278.2" y="1220.4" width="2.0" height="1.6" fill="#ffffff"/><rect x="258.9" y="1224.5" width="2.0" height="1.6" fill="#ffffff"/><rect x="301.4" y="1229.1" width="2.0" height="1.6" fill="#9a9a9a"/><rect x="309.6" y="1284.5" width="2.0" height="1.6" fill="#9a9a9a"/><rect x="320.2" y="1278.1" width="2.0" height="1.6" fill="#ffffff"/><rect x="297.3" y="1224.1" width="2.4" height="1.9" fill="#b5b5b5"/><rect x="251.8" y="1246.7" width="1.2" height="1.0" fill="#eeeeee"/><rect x="254.8" y="1250.9" width="2.4" height="1.9" fill="#9a9a9a"/><rect x="314.8" y="1230.6" width="2.4" height="1.9" fill="#9a9a9a"/><rect x="312.4" y="1226.0" width="1.6" height="1.3" fill="#f5f5f5"/><rect x="227.5" y="1233.1" width="1.2" height="1.0" fill="#b5b5b5"/><rect x="213.4" y="1265.4" width="2.0" height="1.6" fill="#f5f5f5"/><rect x="351.3" y="1256.7" width="1.2" height="1.0" fill="#c4c4c4"/><rect x="278.0" y="1264.9" width="2.0" height="1.6" fill="#ffffff"/><rect x="248.5" y="1214.0" width="1.2" height="1.0" fill="#9a9a9a"/><rect x="235.1" y="1217.2" width="2.4" height="1.9" fill="#ffffff"/><rect x="229.0" y="1255.6" width="2.4" height="1.9" fill="#9a9a9a"/><rect x="256.8" y="1254.3" width="1.6" height="1.3" fill="#9a9a9a"/><rect x="284.3" y="1244.8" width="1.2" height="1.0" fill="#ffffff"/><rect x="295.7" y="1221.4" width="1.2" height="1.0" fill="#9a9a9a"/><rect x="344.7" y="1236.8" width="1.2" height="1.0" fill="#ffffff"/><rect x="300.9" y="1234.1" width="2.4" height="1.9" fill="#ffffff"/><rect x="365.0" y="1235.6" width="1.6" height="1.3" fill="#eeeeee"/><rect x="334.7" y="1278.0" width="2.0" height="1.6" fill="#f5f5f5"/><rect x="239.5" y="1240.0" width="2.0" height="1.6" fill="#b5b5b5"/><rect x="309.4" y="1300.2" width="1.2" height="1.0" fill="#b5b5b5"/><rect x="231.4" y="1262.6" width="1.2" height="1.0" fill="#f5f5f5"/><rect x="278.6" y="1293.1" width="1.2" height="1.0" fill="#ffffff"/><rect x="235.8" y="1260.2" width="1.6" height="1.3" fill="#9a9a9a"/><rect x="300.7" y="1244.5" width="1.6" height="1.3" fill="#ffffff"/><rect x="304.7" y="1218.0" width="1.6" height="1.3" fill="#c4c4c4"/><rect x="365.0" y="1233.5" width="2.0" height="1.6" fill="#ffffff"/><rect x="273.0" y="1253.8" width="1.2" height="1.0" fill="#9a9a9a"/><rect x="259.1" y="1266.3" width="1.6" height="1.3" fill="#ffffff"/><rect x="359.8" y="1244.9" width="2.0" height="1.6" fill="#c4c4c4"/><rect x="286.0" y="1291.8" width="1.2" height="1.0" fill="#eeeeee"/><rect x="358.3" y="1234.4" width="1.6" height="1.3" fill="#ffffff"/><rect x="316.7" y="1249.3" width="2.4" height="1.9" fill="#f5f5f5"/><rect x="225.6" y="1244.8" width="1.6" height="1.3" fill="#b5b5b5"/><rect x="335.8" y="1218.8" width="1.2" height="1.0" fill="#b5b5b5"/><rect x="259.5" y="1214.7" width="1.6" height="1.3" fill="#ffffff"/><rect x="347.5" y="1236.5" width="1.2" height="1.0" fill="#f5f5f5"/><rect x="272.5" y="1233.5" width="2.4" height="1.9" fill="#ffffff"/><rect x="275.8" y="1285.7" width="1.2" height="1.0" fill="#b5b5b5"/><rect x="312.3" y="1266.1" width="2.4" height="1.9" fill="#ffffff"/><rect x="249.2" y="1232.3" width="1.6" height="1.3" fill="#ffffff"/><rect x="371.3" y="1233.0" width="2.0" height="1.6" fill="#9a9a9a"/><rect x="274.7" y="1239.8" width="1.2" height="1.0" fill="#ffffff"/><rect x="278.9" y="1228.9" width="2.4" height="1.9" fill="#ffffff"/><rect x="322.4" y="1237.8" width="2.4" height="1.9" fill="#ffffff"/><rect x="211.7" y="1234.8" width="1.6" height="1.3" fill="#ffffff"/><rect x="226.9" y="1265.0" width="1.6" height="1.3" fill="#ffffff"/><rect x="307.3" y="1290.3" width="2.0" height="1.6" fill="#c4c4c4"/><rect x="357.2" y="1248.6" width="2.0" height="1.6" fill="#ffffff"/><rect x="233.8" y="1242.6" width="2.0" height="1.6" fill="#ffffff"/><rect x="241.2" y="1254.9" width="2.0" height="1.6" fill="#ffffff"/><rect x="266.8" y="1253.5" width="1.6" height="1.3" fill="#ffffff"/><rect x="270.2" y="1278.9" width="1.6" height="1.3" fill="#f5f5f5"/><rect x="208.2" y="1265.6" width="1.2" height="1.0" fill="#ffffff"/><rect x="196.0" y="1261.5" width="2.4" height="1.9" fill="#ffffff"/><rect x="238.3" y="1273.1" width="1.6" height="1.3" fill="#c4c4c4"/><rect x="320.4" y="1235.2" width="2.4" height="1.9" fill="#c4c4c4"/><rect x="254.5" y="1246.4" width="2.4" height="1.9" fill="#ffffff"/><rect x="282.9" y="1265.4" width="1.2" height="1.0" fill="#eeeeee"/><rect x="228.5" y="1258.4" width="2.4" height="1.9" fill="#b5b5b5"/><rect x="223.6" y="1238.9" width="2.0" height="1.6" fill="#9a9a9a"/><rect x="331.0" y="1253.6" width="2.0" height="1.6" fill="#f5f5f5"/><rect x="345.0" y="1230.3" width="2.0" height="1.6" fill="#eeeeee"/><rect x="297.2" y="1251.6" width="1.6" height="1.3" fill="#eeeeee"/><rect x="255.4" y="1283.8" width="1.2" height="1.0" fill="#eeeeee"/><rect x="235.1" y="1233.5" width="2.0" height="1.6" fill="#c4c4c4"/><rect x="293.6" y="1211.1" width="2.0" height="1.6" fill="#9a9a9a"/><rect x="249.4" y="1272.1" width="1.6" height="1.3" fill="#f5f5f5"/><rect x="335.8" y="1261.9" width="2.0" height="1.6" fill="#ffffff"/><rect x="259.8" y="1217.0" width="1.6" height="1.3" fill="#9a9a9a"/><rect x="260.3" y="1209.9" width="2.0" height="1.6" fill="#b5b5b5"/><rect x="255.5" y="1231.6" width="1.6" height="1.3" fill="#f5f5f5"/><rect x="317.5" y="1230.0" width="1.2" height="1.0" fill="#ffffff"/><rect x="291.6" y="1224.1" width="2.0" height="1.6" fill="#f5f5f5"/><rect x="339.6" y="1233.8" width="1.2" height="1.0" fill="#c4c4c4"/><rect x="232.8" y="1238.9" width="1.6" height="1.3" fill="#ffffff"/><rect x="257.2" y="1275.5" width="1.6" height="1.3" fill="#c4c4c4"/><rect x="233.8" y="1265.8" width="2.0" height="1.6" fill="#eeeeee"/><rect x="248.6" y="1209.8" width="2.4" height="1.9" fill="#f5f5f5"/><rect x="346.8" y="1260.1" width="2.0" height="1.6" fill="#ffffff"/><rect x="280.5" y="1235.4" width="2.0" height="1.6" fill="#c4c4c4"/><rect x="317.6" y="1212.8" width="2.4" height="1.9" fill="#c4c4c4"/><rect x="204.6" y="1256.8" width="2.4" height="1.9" fill="#9a9a9a"/><rect x="236.4" y="1277.0" width="2.0" height="1.6" fill="#ffffff"/><rect x="339.8" y="1228.9" width="2.0" height="1.6" fill="#c4c4c4"/><rect x="299.4" y="1272.5" width="1.6" height="1.3" fill="#ffffff"/><rect x="231.2" y="1235.1" width="1.2" height="1.0" fill="#c4c4c4"/><rect x="249.6" y="1274.0" width="2.0" height="1.6" fill="#eeeeee"/><rect x="334.3" y="1223.3" width="2.0" height="1.6" fill="#ffffff"/><rect x="322.3" y="1269.2" width="1.6" height="1.3" fill="#f5f5f5"/><rect x="295.1" y="1259.7" width="1.2" height="1.0" fill="#ffffff"/><rect x="254.8" y="1211.1" width="2.4" height="1.9" fill="#ffffff"/><rect x="199.8" y="1243.0" width="1.2" height="1.0" fill="#b5b5b5"/><rect x="227.1" y="1269.9" width="2.4" height="1.9" fill="#ffffff"/><rect x="252.3" y="1219.5" width="1.2" height="1.0" fill="#eeeeee"/><rect x="254.6" y="1242.4" width="2.0" height="1.6" fill="#9a9a9a"/><rect x="233.2" y="1264.4" width="1.6" height="1.3" fill="#ffffff"/><rect x="272.8" y="1210.8" width="1.6" height="1.3" fill="#ffffff"/><rect x="286.6" y="1215.4" width="1.2" height="1.0" fill="#ffffff"/><rect x="270.6" y="1208.2" width="1.6" height="1.3" fill="#eeeeee"/><rect x="273.0" y="1209.0" width="1.2" height="1.0" fill="#ffffff"/><rect x="282.3" y="1217.8" width="2.4" height="1.9" fill="#b5b5b5"/><rect x="282.1" y="1282.9" width="2.4" height="1.9" fill="#ffffff"/><rect x="208.1" y="1247.9" width="1.2" height="1.0" fill="#b5b5b5"/><rect x="286.3" y="1278.4" width="1.6" height="1.3" fill="#f5f5f5"/><rect x="267.1" y="1262.0" width="2.0" height="1.6" fill="#b5b5b5"/><rect x="322.0" y="1259.0" width="1.6" height="1.3" fill="#ffffff"/><rect x="370.1" y="1239.2" width="1.6" height="1.3" fill="#f5f5f5"/><rect x="265.1" y="1228.6" width="2.4" height="1.9" fill="#ffffff"/><rect x="338.3" y="1272.9" width="1.2" height="1.0" fill="#ffffff"/><rect x="227.5" y="1220.8" width="2.4" height="1.9" fill="#b5b5b5"/><rect x="290.1" y="1290.5" width="1.6" height="1.3" fill="#b5b5b5"/><rect x="233.6" y="1251.7" width="1.6" height="1.3" fill="#ffffff"/><rect x="293.1" y="1285.3" width="2.4" height="1.9" fill="#ffffff"/><rect x="340.4" y="1259.4" width="2.4" height="1.9" fill="#ffffff"/><rect x="193.3" y="1257.5" width="2.0" height="1.6" fill="#9a9a9a"/><rect x="322.9" y="1234.5" width="1.6" height="1.3" fill="#b5b5b5"/><rect x="314.1" y="1232.7" width="2.4" height="1.9" fill="#ffffff"/><rect x="244.6" y="1240.3" width="1.6" height="1.3" fill="#b5b5b5"/><rect x="255.6" y="1234.4" width="2.0" height="1.6" fill="#ffffff"/><rect x="231.8" y="1221.4" width="2.4" height="1.9" fill="#ffffff"/><rect x="305.7" y="1286.9" width="1.2" height="1.0" fill="#f5f5f5"/><rect x="318.5" y="1230.8" width="2.0" height="1.6" fill="#ffffff"/><rect x="292.8" y="1297.0" width="1.6" height="1.3" fill="#ffffff"/><rect x="294.1" y="1247.6" width="1.6" height="1.3" fill="#eeeeee"/><rect x="220.7" y="1233.4" width="2.0" height="1.6" fill="#9a9a9a"/><rect x="315.3" y="1259.2" width="2.4" height="1.9" fill="#f5f5f5"/><rect x="225.6" y="1260.1" width="1.2" height="1.0" fill="#ffffff"/><rect x="256.7" y="1242.0" width="1.2" height="1.0" fill="#eeeeee"/><rect x="255.6" y="1214.7" width="1.6" height="1.3" fill="#f5f5f5"/><rect x="314.4" y="1256.7" width="1.2" height="1.0" fill="#ffffff"/><rect x="279.8" y="1210.3" width="1.2" height="1.0" fill="#f5f5f5"/><rect x="253.6" y="1257.0" width="1.2" height="1.0" fill="#c4c4c4"/><rect x="354.0" y="1254.8" width="2.0" height="1.6" fill="#eeeeee"/><rect x="255.4" y="1233.6" width="2.4" height="1.9" fill="#eeeeee"/><rect x="310.0" y="1216.1" width="2.0" height="1.6" fill="#9a9a9a"/><rect x="298.5" y="1207.9" width="1.2" height="1.0" fill="#eeeeee"/><rect x="246.4" y="1227.4" width="2.0" height="1.6" fill="#ffffff"/><rect x="321.3" y="1221.7" width="2.4" height="1.9" fill="#f5f5f5"/><rect x="358.7" y="1231.6" width="2.4" height="1.9" fill="#eeeeee"/><rect x="233.0" y="1273.4" width="2.0" height="1.6" fill="#c4c4c4"/><rect x="273.1" y="1217.0" width="2.4" height="1.9" fill="#f5f5f5"/><rect x="223.3" y="1254.1" width="2.0" height="1.6" fill="#ffffff"/><rect x="278.1" y="1247.2" width="2.4" height="1.9" fill="#f5f5f5"/><rect x="236.3" y="1242.8" width="1.2" height="1.0" fill="#ffffff"/><rect x="296.1" y="1265.7" width="1.2" height="1.0" fill="#b5b5b5"/><rect x="302.7" y="1231.7" width="1.6" height="1.3" fill="#c4c4c4"/><rect x="242.7" y="1247.1" width="2.0" height="1.6" fill="#f5f5f5"/><rect x="216.9" y="1249.3" width="1.2" height="1.0" fill="#ffffff"/><rect x="368.6" y="1244.2" width="1.2" height="1.0" fill="#ffffff"/><rect x="317.9" y="1271.5" width="1.2" height="1.0" fill="#b5b5b5"/><rect x="265.8" y="1231.9" width="1.2" height="1.0" fill="#ffffff"/><rect x="244.3" y="1233.3" width="1.2" height="1.0" fill="#f5f5f5"/><rect x="239.0" y="1241.2" width="1.6" height="1.3" fill="#ffffff"/><rect x="288.0" y="1245.1" width="2.4" height="1.9" fill="#9a9a9a"/><rect x="277.0" y="1279.8" width="2.0" height="1.6" fill="#eeeeee"/><rect x="282.8" y="1252.7" width="2.4" height="1.9" fill="#f5f5f5"/><rect x="273.6" y="1258.5" width="2.0" height="1.6" fill="#ffffff"/><rect x="274.5" y="1234.5" width="1.2" height="1.0" fill="#f5f5f5"/><rect x="343.6" y="1244.8" width="1.2" height="1.0" fill="#ffffff"/><rect x="355.4" y="1226.7" width="1.2" height="1.0" fill="#b5b5b5"/><rect x="314.2" y="1286.4" width="1.2" height="1.0" fill="#9a9a9a"/><rect x="365.5" y="1240.3" width="2.0" height="1.6" fill="#eeeeee"/><rect x="225.4" y="1234.8" width="2.4" height="1.9" fill="#c4c4c4"/><rect x="218.2" y="1236.5" width="2.0" height="1.6" fill="#9a9a9a"/><rect x="265.4" y="1262.9" width="2.4" height="1.9" fill="#f5f5f5"/><rect x="265.7" y="1216.9" width="1.6" height="1.3" fill="#9a9a9a"/><rect x="303.0" y="1231.7" width="1.6" height="1.3" fill="#c4c4c4"/><rect x="261.3" y="1263.6" width="1.2" height="1.0" fill="#b5b5b5"/><rect x="305.2" y="1292.6" width="2.4" height="1.9" fill="#ffffff"/><rect x="244.4" y="1246.2" width="2.4" height="1.9" fill="#b5b5b5"/><rect x="338.0" y="1229.6" width="1.2" height="1.0" fill="#ffffff"/><rect x="210.4" y="1239.3" width="2.0" height="1.6" fill="#9a9a9a"/><rect x="265.4" y="1226.1" width="2.4" height="1.9" fill="#f5f5f5"/><rect x="255.8" y="1253.6" width="1.2" height="1.0" fill="#9a9a9a"/><rect x="324.7" y="1220.0" width="1.2" height="1.0" fill="#ffffff"/><rect x="290.7" y="1259.2" width="1.2" height="1.0" fill="#c4c4c4"/><rect x="279.5" y="1215.8" width="2.4" height="1.9" fill="#ffffff"/><rect x="332.3" y="1276.2" width="2.0" height="1.6" fill="#f5f5f5"/><rect x="247.7" y="1249.0" width="1.6" height="1.3" fill="#ffffff"/><rect x="278.3" y="1268.4" width="1.6" height="1.3" fill="#b5b5b5"/><rect x="210.8" y="1269.9" width="1.2" height="1.0" fill="#c4c4c4"/><rect x="249.2" y="1236.9" width="2.0" height="1.6" fill="#ffffff"/><rect x="222.5" y="1264.3" width="2.0" height="1.6" fill="#ffffff"/><rect x="299.2" y="1281.9" width="1.6" height="1.3" fill="#c4c4c4"/><rect x="363.4" y="1243.9" width="2.0" height="1.6" fill="#f5f5f5"/><rect x="296.7" y="1253.6" width="2.0" height="1.6" fill="#b5b5b5"/><rect x="261.6" y="1253.2" width="1.6" height="1.3" fill="#ffffff"/><rect x="290.3" y="1263.7" width="1.6" height="1.3" fill="#f5f5f5"/><rect x="364.7" y="1228.4" width="2.0" height="1.6" fill="#ffffff"/><rect x="230.1" y="1234.3" width="1.2" height="1.0" fill="#ffffff"/><rect x="268.4" y="1208.7" width="1.2" height="1.0" fill="#ffffff"/><rect x="255.0" y="1248.0" width="2.0" height="1.6" fill="#c4c4c4"/><rect x="291.0" y="1274.7" width="1.6" height="1.3" fill="#9a9a9a"/><rect x="281.2" y="1222.9" width="2.4" height="1.9" fill="#f5f5f5"/><rect x="272.2" y="1280.2" width="1.6" height="1.3" fill="#b5b5b5"/><rect x="225.9" y="1239.8" width="1.6" height="1.3" fill="#b5b5b5"/><rect x="336.2" y="1220.7" width="1.6" height="1.3" fill="#ffffff"/><rect x="235.8" y="1253.2" width="2.4" height="1.9" fill="#b5b5b5"/><rect x="281.7" y="1230.5" width="1.2" height="1.0" fill="#f5f5f5"/><rect x="277.9" y="1199.8" width="1.6" height="1.3" fill="#ffffff"/><rect x="273.2" y="1222.8" width="2.4" height="1.9" fill="#ffffff"/><rect x="225.0" y="1272.6" width="1.6" height="1.3" fill="#ffffff"/><rect x="252.0" y="1255.3" width="1.6" height="1.3" fill="#b5b5b5"/><rect x="277.6" y="1235.0" width="2.4" height="1.9" fill="#f5f5f5"/><rect x="283.2" y="1275.3" width="1.6" height="1.3" fill="#b5b5b5"/><rect x="300.2" y="1222.2" width="2.4" height="1.9" fill="#b5b5b5"/><rect x="247.6" y="1268.8" width="2.0" height="1.6" fill="#ffffff"/><rect x="264.0" y="1275.5" width="2.0" height="1.6" fill="#c4c4c4"/><rect x="228.1" y="1268.6" width="2.0" height="1.6" fill="#eeeeee"/><rect x="293.1" y="1245.8" width="1.2" height="1.0" fill="#f5f5f5"/><rect x="241.1" y="1209.4" width="1.2" height="1.0" fill="#ffffff"/><rect x="241.3" y="1235.2" width="2.4" height="1.9" fill="#eeeeee"/><rect x="273.9" y="1252.9" width="1.2" height="1.0" fill="#c4c4c4"/><rect x="255.6" y="1227.6" width="2.0" height="1.6" fill="#b5b5b5"/><rect x="227.2" y="1248.3" width="2.4" height="1.9" fill="#eeeeee"/><rect x="323.9" y="1219.9" width="1.6" height="1.3" fill="#ffffff"/><rect x="359.1" y="1230.9" width="1.2" height="1.0" fill="#ffffff"/><rect x="217.2" y="1270.0" width="1.2" height="1.0" fill="#b5b5b5"/><rect x="247.4" y="1282.4" width="1.2" height="1.0" fill="#eeeeee"/><rect x="304.6" y="1303.3" width="1.6" height="1.3" fill="#b5b5b5"/><rect x="335.9" y="1243.3" width="2.0" height="1.6" fill="#c4c4c4"/><rect x="344.0" y="1237.1" width="2.4" height="1.9" fill="#ffffff"/><rect x="285.6" y="1229.4" width="1.2" height="1.0" fill="#b5b5b5"/><rect x="192.8" y="1250.1" width="2.4" height="1.9" fill="#9a9a9a"/><rect x="310.7" y="1256.9" width="2.0" height="1.6" fill="#b5b5b5"/><rect x="294.4" y="1256.7" width="2.0" height="1.6" fill="#b5b5b5"/><rect x="240.1" y="1219.0" width="2.0" height="1.6" fill="#ffffff"/><rect x="280.0" y="1224.1" width="1.2" height="1.0" fill="#eeeeee"/><rect x="316.0" y="1254.9" width="1.6" height="1.3" fill="#eeeeee"/><rect x="237.0" y="1264.6" width="2.0" height="1.6" fill="#9a9a9a"/><rect x="205.7" y="1266.0" width="1.2" height="1.0" fill="#c4c4c4"/><rect x="256.7" y="1255.8" width="1.2" height="1.0" fill="#eeeeee"/><rect x="316.8" y="1277.1" width="2.0" height="1.6" fill="#ffffff"/><rect x="308.4" y="1212.8" width="2.4" height="1.9" fill="#eeeeee"/><rect x="286.4" y="1229.6" width="2.0" height="1.6" fill="#f5f5f5"/><rect x="220.0" y="1236.5" width="1.6" height="1.3" fill="#9a9a9a"/><rect x="318.8" y="1257.8" width="1.6" height="1.3" fill="#ffffff"/><rect x="322.9" y="1246.0" width="1.6" height="1.3" fill="#ffffff"/><rect x="285.3" y="1263.7" width="2.4" height="1.9" fill="#ffffff"/><rect x="287.9" y="1243.2" width="1.2" height="1.0" fill="#ffffff"/><rect x="338.2" y="1248.5" width="2.4" height="1.9" fill="#ffffff"/><rect x="297.0" y="1260.5" width="1.6" height="1.3" fill="#c4c4c4"/><rect x="269.8" y="1239.5" width="1.2" height="1.0" fill="#ffffff"/><rect x="282.2" y="1252.3" width="1.2" height="1.0" fill="#b5b5b5"/><rect x="326.1" y="1221.4" width="2.4" height="1.9" fill="#f5f5f5"/><rect x="242.2" y="1256.9" width="1.6" height="1.3" fill="#9a9a9a"/><rect x="347.7" y="1222.9" width="1.2" height="1.0" fill="#c4c4c4"/><rect x="301.1" y="1290.6" width="1.2" height="1.0" fill="#ffffff"/><rect x="275.2" y="1213.4" width="1.2" height="1.0" fill="#f5f5f5"/><rect x="320.3" y="1259.7" width="1.2" height="1.0" fill="#b5b5b5"/><rect x="207.3" y="1265.0" width="2.0" height="1.6" fill="#9a9a9a"/><rect x="273.1" y="1259.0" width="1.2" height="1.0" fill="#eeeeee"/><rect x="305.9" y="1285.5" width="1.6" height="1.3" fill="#b5b5b5"/><rect x="233.3" y="1225.7" width="1.6" height="1.3" fill="#ffffff"/><rect x="228.6" y="1229.5" width="1.2" height="1.0" fill="#ffffff"/><rect x="294.0" y="1285.5" width="1.6" height="1.3" fill="#9a9a9a"/><rect x="196.3" y="1261.2" width="1.6" height="1.3" fill="#9a9a9a"/><rect x="296.2" y="1289.7" width="2.4" height="1.9" fill="#f5f5f5"/><rect x="237.9" y="1215.6" width="2.4" height="1.9" fill="#ffffff"/><rect x="266.8" y="1197.1" width="2.0" height="1.6" fill="#eeeeee"/><rect x="345.7" y="1247.4" width="2.4" height="1.9" fill="#eeeeee"/><rect x="291.0" y="1220.8" width="2.0" height="1.6" fill="#9a9a9a"/><rect x="280.5" y="1275.1" width="1.6" height="1.3" fill="#eeeeee"/><rect x="291.5" y="1282.7" width="1.2" height="1.0" fill="#ffffff"/><rect x="206.2" y="1257.3" width="2.0" height="1.6" fill="#9a9a9a"/><rect x="220.7" y="1272.8" width="1.6" height="1.3" fill="#ffffff"/><rect x="301.5" y="1267.8" width="2.4" height="1.9" fill="#b5b5b5"/><rect x="211.8" y="1263.5" width="2.4" height="1.9" fill="#b5b5b5"/><rect x="275.1" y="1234.6" width="2.4" height="1.9" fill="#b5b5b5"/><rect x="207.3" y="1257.0" width="2.0" height="1.6" fill="#ffffff"/><rect x="277.8" y="1254.0" width="1.2" height="1.0" fill="#ffffff"/><rect x="283.9" y="1213.2" width="1.2" height="1.0" fill="#b5b5b5"/><rect x="301.0" y="1258.5" width="2.4" height="1.9" fill="#ffffff"/><rect x="238.0" y="1240.5" width="2.4" height="1.9" fill="#eeeeee"/><rect x="289.9" y="1263.1" width="2.0" height="1.6" fill="#9a9a9a"/><rect x="304.6" y="1240.2" width="2.0" height="1.6" fill="#b5b5b5"/><rect x="266.5" y="1289.2" width="1.2" height="1.0" fill="#eeeeee"/><rect x="243.4" y="1269.2" width="2.4" height="1.9" fill="#b5b5b5"/><rect x="260.4" y="1255.2" width="1.2" height="1.0" fill="#ffffff"/><rect x="254.5" y="1265.8" width="1.2" height="1.0" fill="#9a9a9a"/><rect x="283.5" y="1227.0" width="1.2" height="1.0" fill="#9a9a9a"/><rect x="277.8" y="1279.3" width="2.0" height="1.6" fill="#ffffff"/><rect x="241.5" y="1233.1" width="1.2" height="1.0" fill="#ffffff"/><rect x="375.1" y="1233.0" width="2.4" height="1.9" fill="#c4c4c4"/><rect x="334.2" y="1251.0" width="1.2" height="1.0" fill="#ffffff"/><rect x="225.2" y="1231.6" width="1.6" height="1.3" fill="#c4c4c4"/><rect x="290.8" y="1242.6" width="2.0" height="1.6" fill="#ffffff"/><rect x="324.6" y="1260.8" width="1.2" height="1.0" fill="#ffffff"/><rect x="256.2" y="1196.4" width="2.4" height="1.9" fill="#b5b5b5"/><rect x="289.0" y="1286.9" width="1.6" height="1.3" fill="#ffffff"/><rect x="249.9" y="1203.3" width="1.2" height="1.0" fill="#ffffff"/><rect x="266.4" y="1238.8" width="1.2" height="1.0" fill="#ffffff"/><rect x="258.0" y="1238.7" width="1.2" height="1.0" fill="#ffffff"/><rect x="263.2" y="1276.6" width="2.0" height="1.6" fill="#ffffff"/><rect x="277.7" y="1220.0" width="2.4" height="1.9" fill="#eeeeee"/><rect x="314.8" y="1212.3" width="1.6" height="1.3" fill="#ffffff"/><rect x="286.5" y="1253.0" width="1.6" height="1.3" fill="#ffffff"/><rect x="242.8" y="1228.1" width="2.4" height="1.9" fill="#f5f5f5"/><rect x="331.3" y="1220.1" width="2.4" height="1.9" fill="#ffffff"/><rect x="302.8" y="1281.1" width="2.4" height="1.9" fill="#ffffff"/><rect x="241.8" y="1230.9" width="2.4" height="1.9" fill="#ffffff"/><rect x="218.1" y="1244.2" width="2.4" height="1.9" fill="#ffffff"/><rect x="239.9" y="1273.1" width="1.2" height="1.0" fill="#b5b5b5"/><rect x="295.9" y="1260.2" width="1.6" height="1.3" fill="#ffffff"/><rect x="330.0" y="1227.0" width="1.2" height="1.0" fill="#f5f5f5"/><rect x="253.9" y="1256.9" width="1.6" height="1.3" fill="#b5b5b5"/><rect x="260.4" y="1246.9" width="2.4" height="1.9" fill="#ffffff"/><rect x="259.3" y="1246.4" width="1.2" height="1.0" fill="#ffffff"/><rect x="252.2" y="1206.2" width="1.6" height="1.3" fill="#ffffff"/><rect x="289.3" y="1245.6" width="1.6" height="1.3" fill="#c4c4c4"/><rect x="319.8" y="1240.1" width="2.0" height="1.6" fill="#ffffff"/><rect x="298.9" y="1210.8" width="1.2" height="1.0" fill="#ffffff"/><rect x="273.5" y="1235.9" width="1.2" height="1.0" fill="#ffffff"/><rect x="295.2" y="1265.9" width="2.0" height="1.6" fill="#eeeeee"/><rect x="354.0" y="1253.4" width="1.6" height="1.3" fill="#b5b5b5"/><rect x="302.5" y="1246.1" width="1.6" height="1.3" fill="#9a9a9a"/><rect x="283.2" y="1246.5" width="1.2" height="1.0" fill="#9a9a9a"/><rect x="305.9" y="1283.8" width="2.4" height="1.9" fill="#b5b5b5"/><rect x="291.3" y="1263.0" width="2.0" height="1.6" fill="#ffffff"/><rect x="261.3" y="1279.0" width="1.6" height="1.3" fill="#c4c4c4"/><rect x="311.2" y="1274.4" width="1.6" height="1.3" fill="#9a9a9a"/><rect x="343.1" y="1240.6" width="1.2" height="1.0" fill="#b5b5b5"/><rect x="344.0" y="1269.9" width="1.2" height="1.0" fill="#c4c4c4"/><rect x="320.6" y="1220.1" width="1.6" height="1.3" fill="#ffffff"/><rect x="255.5" y="1285.8" width="2.4" height="1.9" fill="#ffffff"/><rect x="271.2" y="1232.1" width="1.6" height="1.3" fill="#ffffff"/><rect x="313.1" y="1264.1" width="2.4" height="1.9" fill="#f5f5f5"/><rect x="327.3" y="1246.1" width="2.4" height="1.9" fill="#ffffff"/><rect x="277.6" y="1224.0" width="1.2" height="1.0" fill="#ffffff"/><rect x="328.9" y="1277.9" width="1.2" height="1.0" fill="#ffffff"/><rect x="283.8" y="1230.2" width="1.6" height="1.3" fill="#ffffff"/><rect x="218.2" y="1242.0" width="1.2" height="1.0" fill="#f5f5f5"/><rect x="221.7" y="1247.9" width="1.2" height="1.0" fill="#c4c4c4"/><rect x="362.8" y="1233.4" width="2.4" height="1.9" fill="#eeeeee"/><rect x="295.7" y="1234.3" width="2.4" height="1.9" fill="#c4c4c4"/><rect x="251.8" y="1214.7" width="2.0" height="1.6" fill="#f5f5f5"/><rect x="233.2" y="1245.2" width="2.0" height="1.6" fill="#f5f5f5"/><rect x="289.8" y="1221.7" width="2.4" height="1.9" fill="#c4c4c4"/><rect x="317.0" y="1226.9" width="1.6" height="1.3" fill="#9a9a9a"/><rect x="315.9" y="1213.5" width="1.2" height="1.0" fill="#9a9a9a"/><rect x="287.3" y="1275.1" width="2.0" height="1.6" fill="#b5b5b5"/><rect x="316.5" y="1252.3" width="1.2" height="1.0" fill="#b5b5b5"/><rect x="302.2" y="1278.4" width="1.6" height="1.3" fill="#eeeeee"/><rect x="282.7" y="1236.7" width="2.4" height="1.9" fill="#f5f5f5"/><rect x="330.2" y="1268.5" width="1.2" height="1.0" fill="#ffffff"/><rect x="268.1" y="1219.1" width="2.0" height="1.6" fill="#ffffff"/><rect x="256.1" y="1272.0" width="1.6" height="1.3" fill="#9a9a9a"/><rect x="276.2" y="1261.6" width="2.4" height="1.9" fill="#f5f5f5"/><rect x="357.6" y="1247.7" width="1.2" height="1.0" fill="#b5b5b5"/><rect x="224.3" y="1260.0" width="2.0" height="1.6" fill="#eeeeee"/><rect x="255.4" y="1213.8" width="2.0" height="1.6" fill="#f5f5f5"/><rect x="295.9" y="1265.5" width="2.0" height="1.6" fill="#b5b5b5"/><rect x="222.6" y="1240.4" width="2.0" height="1.6" fill="#f5f5f5"/><rect x="287.5" y="1270.0" width="2.0" height="1.6" fill="#f5f5f5"/><rect x="263.3" y="1262.8" width="2.0" height="1.6" fill="#b5b5b5"/><rect x="312.7" y="1292.2" width="1.6" height="1.3" fill="#c4c4c4"/><rect x="325.7" y="1258.3" width="1.2" height="1.0" fill="#f5f5f5"/><rect x="305.2" y="1233.2" width="2.0" height="1.6" fill="#b5b5b5"/><rect x="260.7" y="1199.8" width="1.6" height="1.3" fill="#9a9a9a"/><rect x="293.9" y="1234.0" width="1.6" height="1.3" fill="#9a9a9a"/><rect x="338.1" y="1266.4" width="1.6" height="1.3" fill="#9a9a9a"/><rect x="233.1" y="1226.1" width="2.0" height="1.6" fill="#ffffff"/><rect x="303.7" y="1293.9" width="1.6" height="1.3" fill="#ffffff"/><rect x="329.7" y="1282.7" width="1.2" height="1.0" fill="#f5f5f5"/><rect x="350.2" y="1255.0" width="1.2" height="1.0" fill="#f5f5f5"/><rect x="244.5" y="1268.5" width="2.4" height="1.9" fill="#ffffff"/><rect x="262.1" y="1270.9" width="2.4" height="1.9" fill="#9a9a9a"/><rect x="362.7" y="1238.3" width="2.4" height="1.9" fill="#ffffff"/><rect x="213.4" y="1252.6" width="1.2" height="1.0" fill="#ffffff"/><rect x="324.6" y="1217.1" width="1.6" height="1.3" fill="#ffffff"/><rect x="314.5" y="1282.6" width="2.0" height="1.6" fill="#eeeeee"/><rect x="371.3" y="1231.8" width="2.4" height="1.9" fill="#f5f5f5"/><rect x="302.1" y="1301.5" width="2.0" height="1.6" fill="#ffffff"/><rect x="306.6" y="1296.5" width="1.2" height="1.0" fill="#f5f5f5"/><rect x="217.7" y="1244.3" width="1.2" height="1.0" fill="#b5b5b5"/><rect x="245.0" y="1268.2" width="1.2" height="1.0" fill="#f5f5f5"/><rect x="186.0" y="1254.5" width="2.4" height="1.9" fill="#eeeeee"/><rect x="317.2" y="1268.7" width="1.6" height="1.3" fill="#9a9a9a"/><rect x="226.3" y="1274.2" width="2.0" height="1.6" fill="#eeeeee"/><rect x="215.6" y="1236.8" width="2.0" height="1.6" fill="#9a9a9a"/><rect x="256.6" y="1264.1" width="1.6" height="1.3" fill="#c4c4c4"/><rect x="222.7" y="1254.2" width="2.4" height="1.9" fill="#ffffff"/><rect x="279.6" y="1207.6" width="1.6" height="1.3" fill="#f5f5f5"/><rect x="312.6" y="1247.5" width="1.2" height="1.0" fill="#b5b5b5"/><rect x="222.2" y="1252.1" width="2.0" height="1.6" fill="#b5b5b5"/><rect x="290.5" y="1279.1" width="1.6" height="1.3" fill="#ffffff"/><rect x="255.8" y="1278.9" width="2.4" height="1.9" fill="#eeeeee"/><rect x="240.4" y="1241.3" width="2.0" height="1.6" fill="#f5f5f5"/><rect x="271.7" y="1285.5" width="2.4" height="1.9" fill="#ffffff"/><rect x="338.9" y="1275.2" width="2.0" height="1.6" fill="#eeeeee"/><rect x="322.8" y="1290.4" width="1.2" height="1.0" fill="#b5b5b5"/><rect x="303.1" y="1224.6" width="1.2" height="1.0" fill="#ffffff"/><rect x="273.2" y="1256.0" width="2.4" height="1.9" fill="#ffffff"/><rect x="308.4" y="1291.5" width="1.6" height="1.3" fill="#eeeeee"/><rect x="362.8" y="1230.5" width="2.0" height="1.6" fill="#9a9a9a"/><rect x="208.9" y="1256.4" width="1.2" height="1.0" fill="#9a9a9a"/><rect x="215.8" y="1258.9" width="2.4" height="1.9" fill="#eeeeee"/><rect x="282.9" y="1226.5" width="1.6" height="1.3" fill="#b5b5b5"/><rect x="306.3" y="1297.9" width="2.0" height="1.6" fill="#f5f5f5"/><rect x="276.5" y="1282.0" width="1.6" height="1.3" fill="#9a9a9a"/><rect x="275.7" y="1267.1" width="2.0" height="1.6" fill="#ffffff"/><rect x="308.1" y="1297.5" width="1.2" height="1.0" fill="#eeeeee"/><rect x="214.5" y="1242.1" width="1.6" height="1.3" fill="#f5f5f5"/><rect x="350.2" y="1257.6" width="2.0" height="1.6" fill="#ffffff"/><rect x="309.7" y="1219.7" width="2.0" height="1.6" fill="#ffffff"/><rect x="320.8" y="1227.8" width="1.2" height="1.0" fill="#ffffff"/><rect x="277.9" y="1204.7" width="2.4" height="1.9" fill="#ffffff"/><rect x="307.8" y="1266.1" width="2.0" height="1.6" fill="#ffffff"/><rect x="214.9" y="1255.0" width="1.2" height="1.0" fill="#eeeeee"/><rect x="216.9" y="1232.2" width="1.2" height="1.0" fill="#ffffff"/><rect x="254.0" y="1268.2" width="1.6" height="1.3" fill="#ffffff"/><rect x="222.8" y="1270.4" width="2.0" height="1.6" fill="#b5b5b5"/><rect x="287.4" y="1273.5" width="1.6" height="1.3" fill="#9a9a9a"/><rect x="293.5" y="1215.3" width="2.4" height="1.9" fill="#c4c4c4"/><rect x="284.3" y="1252.2" width="2.4" height="1.9" fill="#9a9a9a"/><rect x="282.4" y="1206.9" width="2.4" height="1.9" fill="#f5f5f5"/><rect x="319.6" y="1214.4" width="1.6" height="1.3" fill="#b5b5b5"/><rect x="323.0" y="1280.0" width="1.6" height="1.3" fill="#c4c4c4"/><rect x="295.7" y="1267.8" width="1.2" height="1.0" fill="#ffffff"/><rect x="267.7" y="1237.1" width="2.4" height="1.9" fill="#ffffff"/><rect x="317.4" y="1244.1" width="2.0" height="1.6" fill="#c4c4c4"/><rect x="308.0" y="1223.5" width="1.2" height="1.0" fill="#ffffff"/><rect x="230.8" y="1230.2" width="1.2" height="1.0" fill="#ffffff"/><rect x="334.6" y="1220.6" width="2.4" height="1.9" fill="#b5b5b5"/><rect x="208.9" y="1242.8" width="1.6" height="1.3" fill="#ffffff"/><rect x="285.1" y="1258.4" width="2.0" height="1.6" fill="#ffffff"/><rect x="254.4" y="1225.7" width="2.4" height="1.9" fill="#ffffff"/><rect x="230.4" y="1271.6" width="2.4" height="1.9" fill="#ffffff"/><rect x="301.9" y="1288.4" width="2.0" height="1.6" fill="#9a9a9a"/><rect x="346.0" y="1255.3" width="2.0" height="1.6" fill="#ffffff"/><rect x="371.9" y="1237.7" width="2.0" height="1.6" fill="#eeeeee"/><rect x="342.8" y="1239.3" width="1.2" height="1.0" fill="#f5f5f5"/><rect x="307.3" y="1275.4" width="1.2" height="1.0" fill="#eeeeee"/><rect x="300.3" y="1300.5" width="2.4" height="1.9" fill="#9a9a9a"/><rect x="326.7" y="1252.3" width="1.2" height="1.0" fill="#c4c4c4"/><rect x="317.4" y="1293.2" width="2.0" height="1.6" fill="#b5b5b5"/><rect x="314.9" y="1277.4" width="2.0" height="1.6" fill="#f5f5f5"/><rect x="351.6" y="1259.5" width="1.2" height="1.0" fill="#f5f5f5"/><rect x="267.3" y="1251.3" width="1.2" height="1.0" fill="#c4c4c4"/><rect x="323.9" y="1219.6" width="1.6" height="1.3" fill="#ffffff"/><rect x="256.7" y="1252.8" width="1.6" height="1.3" fill="#ffffff"/><rect x="318.1" y="1214.4" width="1.2" height="1.0" fill="#eeeeee"/><rect x="307.7" y="1254.9" width="2.4" height="1.9" fill="#9a9a9a"/><rect x="230.0" y="1259.1" width="1.2" height="1.0" fill="#b5b5b5"/><rect x="293.6" y="1211.3" width="2.0" height="1.6" fill="#ffffff"/><rect x="292.4" y="1243.5" width="2.4" height="1.9" fill="#b5b5b5"/><rect x="304.3" y="1271.4" width="1.6" height="1.3" fill="#b5b5b5"/><rect x="284.2" y="1249.5" width="1.2" height="1.0" fill="#ffffff"/><rect x="330.1" y="1260.7" width="1.6" height="1.3" fill="#ffffff"/><rect x="288.9" y="1209.3" width="1.6" height="1.3" fill="#9a9a9a"/><rect x="266.3" y="1251.9" width="1.2" height="1.0" fill="#9a9a9a"/><rect x="324.9" y="1282.4" width="1.6" height="1.3" fill="#c4c4c4"/><rect x="250.6" y="1261.9" width="1.2" height="1.0" fill="#ffffff"/><rect x="229.8" y="1235.9" width="2.0" height="1.6" fill="#c4c4c4"/><rect x="287.1" y="1257.0" width="1.2" height="1.0" fill="#ffffff"/><rect x="264.0" y="1216.5" width="1.6" height="1.3" fill="#ffffff"/><rect x="278.9" y="1202.7" width="2.0" height="1.6" fill="#9a9a9a"/><rect x="326.4" y="1248.6" width="2.4" height="1.9" fill="#ffffff"/><rect x="264.5" y="1197.5" width="1.6" height="1.3" fill="#ffffff"/><rect x="366.9" y="1238.8" width="1.2" height="1.0" fill="#ffffff"/><rect x="217.3" y="1228.6" width="1.6" height="1.3" fill="#ffffff"/><rect x="344.0" y="1269.1" width="2.4" height="1.9" fill="#eeeeee"/><rect x="302.7" y="1280.0" width="1.2" height="1.0" fill="#c4c4c4"/><rect x="235.6" y="1225.7" width="1.2" height="1.0" fill="#eeeeee"/><rect x="283.8" y="1257.5" width="1.2" height="1.0" fill="#c4c4c4"/><rect x="329.5" y="1241.7" width="1.6" height="1.3" fill="#ffffff"/><rect x="364.2" y="1241.4" width="2.0" height="1.6" fill="#ffffff"/><rect x="345.4" y="1255.9" width="2.0" height="1.6" fill="#9a9a9a"/><rect x="248.8" y="1205.2" width="2.4" height="1.9" fill="#c4c4c4"/><rect x="306.1" y="1286.0" width="1.2" height="1.0" fill="#ffffff"/><rect x="304.4" y="1260.3" width="2.4" height="1.9" fill="#9a9a9a"/><rect x="240.4" y="1239.4" width="1.2" height="1.0" fill="#eeeeee"/><rect x="256.3" y="1257.4" width="2.4" height="1.9" fill="#ffffff"/><rect x="320.8" y="1248.8" width="2.4" height="1.9" fill="#ffffff"/><rect x="304.8" y="1255.0" width="1.2" height="1.0" fill="#c4c4c4"/><rect x="297.4" y="1272.6" width="2.4" height="1.9" fill="#ffffff"/><rect x="230.9" y="1248.9" width="2.0" height="1.6" fill="#ffffff"/><rect x="282.1" y="1258.0" width="2.0" height="1.6" fill="#c4c4c4"/><rect x="298.0" y="1276.4" width="1.6" height="1.3" fill="#c4c4c4"/><rect x="313.2" y="1277.9" width="2.4" height="1.9" fill="#eeeeee"/><rect x="233.7" y="1223.3" width="2.4" height="1.9" fill="#eeeeee"/><rect x="265.3" y="1197.6" width="2.0" height="1.6" fill="#9a9a9a"/><rect x="273.6" y="1268.5" width="1.6" height="1.3" fill="#c4c4c4"/><rect x="317.1" y="1295.4" width="1.2" height="1.0" fill="#9a9a9a"/><rect x="259.2" y="1233.5" width="2.0" height="1.6" fill="#ffffff"/><rect x="250.4" y="1225.0" width="2.4" height="1.9" fill="#ffffff"/><rect x="279.3" y="1217.9" width="1.6" height="1.3" fill="#c4c4c4"/><rect x="196.9" y="1260.3" width="2.4" height="1.9" fill="#ffffff"/><rect x="324.7" y="1218.9" width="2.4" height="1.9" fill="#9a9a9a"/><rect x="283.6" y="1289.2" width="1.6" height="1.3" fill="#b5b5b5"/><rect x="330.2" y="1232.5" width="2.0" height="1.6" fill="#c4c4c4"/><rect x="244.2" y="1227.3" width="2.0" height="1.6" fill="#ffffff"/><rect x="262.3" y="1249.9" width="1.6" height="1.3" fill="#b5b5b5"/><rect x="209.1" y="1266.9" width="1.2" height="1.0" fill="#ffffff"/><rect x="294.8" y="1274.8" width="1.2" height="1.0" fill="#ffffff"/><rect x="272.0" y="1289.7" width="2.0" height="1.6" fill="#b5b5b5"/><rect x="261.8" y="1221.6" width="2.0" height="1.6" fill="#9a9a9a"/><rect x="350.6" y="1232.0" width="2.0" height="1.6" fill="#ffffff"/><rect x="255.9" y="1200.0" width="2.0" height="1.6" fill="#b5b5b5"/><rect x="226.4" y="1254.4" width="1.6" height="1.3" fill="#9a9a9a"/><rect x="331.8" y="1224.2" width="2.4" height="1.9" fill="#ffffff"/><rect x="217.2" y="1255.0" width="2.4" height="1.9" fill="#f5f5f5"/><rect x="279.8" y="1227.4" width="2.0" height="1.6" fill="#eeeeee"/><rect x="309.0" y="1283.6" width="1.2" height="1.0" fill="#9a9a9a"/><rect x="265.2" y="1221.3" width="1.2" height="1.0" fill="#ffffff"/><rect x="328.7" y="1246.2" width="1.2" height="1.0" fill="#ffffff"/><rect x="267.4" y="1233.8" width="2.4" height="1.9" fill="#ffffff"/><rect x="196.6" y="1255.1" width="1.6" height="1.3" fill="#ffffff"/><rect x="255.0" y="1281.9" width="2.0" height="1.6" fill="#f5f5f5"/><rect x="248.3" y="1210.1" width="1.2" height="1.0" fill="#eeeeee"/><rect x="253.6" y="1251.1" width="2.0" height="1.6" fill="#eeeeee"/><rect x="220.2" y="1272.0" width="2.0" height="1.6" fill="#9a9a9a"/><rect x="247.1" y="1266.7" width="1.2" height="1.0" fill="#f5f5f5"/><rect x="208.9" y="1260.1" width="2.0" height="1.6" fill="#eeeeee"/><rect x="316.2" y="1223.1" width="1.6" height="1.3" fill="#ffffff"/><rect x="263.1" y="1251.5" width="2.4" height="1.9" fill="#b5b5b5"/><rect x="280.9" y="1240.1" width="2.0" height="1.6" fill="#eeeeee"/><rect x="207.0" y="1240.2" width="1.2" height="1.0" fill="#ffffff"/><rect x="281.4" y="1268.0" width="2.0" height="1.6" fill="#eeeeee"/><rect x="352.6" y="1239.2" width="2.0" height="1.6" fill="#ffffff"/><rect x="309.5" y="1261.5" width="1.6" height="1.3" fill="#c4c4c4"/><rect x="365.3" y="1228.4" width="1.2" height="1.0" fill="#eeeeee"/><rect x="236.1" y="1228.6" width="2.4" height="1.9" fill="#9a9a9a"/><rect x="269.9" y="1261.6" width="2.0" height="1.6" fill="#b5b5b5"/><rect x="313.2" y="1300.0" width="1.2" height="1.0" fill="#ffffff"/><rect x="349.6" y="1241.8" width="2.4" height="1.9" fill="#ffffff"/><rect x="322.8" y="1219.6" width="1.2" height="1.0" fill="#c4c4c4"/><rect x="268.3" y="1274.2" width="1.6" height="1.3" fill="#ffffff"/><rect x="283.1" y="1275.3" width="2.0" height="1.6" fill="#ffffff"/><rect x="373.6" y="1237.8" width="1.2" height="1.0" fill="#ffffff"/><rect x="259.3" y="1225.1" width="1.2" height="1.0" fill="#eeeeee"/><rect x="235.6" y="1249.4" width="1.2" height="1.0" fill="#f5f5f5"/><rect x="319.2" y="1291.4" width="1.6" height="1.3" fill="#eeeeee"/><rect x="282.2" y="1290.5" width="1.6" height="1.3" fill="#ffffff"/><rect x="328.4" y="1250.6" width="2.4" height="1.9" fill="#f5f5f5"/><rect x="336.1" y="1219.7" width="1.6" height="1.3" fill="#b5b5b5"/><rect x="230.4" y="1266.1" width="1.2" height="1.0" fill="#ffffff"/><rect x="313.8" y="1277.6" width="2.4" height="1.9" fill="#b5b5b5"/><rect x="286.0" y="1279.4" width="1.2" height="1.0" fill="#ffffff"/><rect x="232.8" y="1251.4" width="1.2" height="1.0" fill="#eeeeee"/><rect x="203.6" y="1249.7" width="2.4" height="1.9" fill="#eeeeee"/><rect x="282.3" y="1215.3" width="2.4" height="1.9" fill="#ffffff"/><rect x="323.7" y="1279.6" width="1.2" height="1.0" fill="#ffffff"/><rect x="277.7" y="1237.8" width="2.0" height="1.6" fill="#ffffff"/><rect x="189.0" y="1259.4" width="2.0" height="1.6" fill="#9a9a9a"/><rect x="301.9" y="1212.6" width="1.6" height="1.3" fill="#f5f5f5"/><rect x="282.3" y="1247.7" width="2.4" height="1.9" fill="#eeeeee"/><rect x="260.8" y="1219.3" width="1.2" height="1.0" fill="#ffffff"/><rect x="227.0" y="1239.5" width="2.4" height="1.9" fill="#eeeeee"/><rect x="315.4" y="1235.5" width="1.2" height="1.0" fill="#9a9a9a"/><rect x="230.7" y="1270.8" width="1.6" height="1.3" fill="#b5b5b5"/><rect x="326.0" y="1224.7" width="2.4" height="1.9" fill="#eeeeee"/><rect x="254.4" y="1218.2" width="2.0" height="1.6" fill="#f5f5f5"/><rect x="325.8" y="1222.8" width="1.2" height="1.0" fill="#ffffff"/><rect x="223.9" y="1257.6" width="1.2" height="1.0" fill="#ffffff"/><rect x="242.3" y="1274.4" width="1.2" height="1.0" fill="#f5f5f5"/><rect x="243.6" y="1231.1" width="2.4" height="1.9" fill="#c4c4c4"/><rect x="243.8" y="1228.1" width="2.4" height="1.9" fill="#ffffff"/><rect x="205.4" y="1239.0" width="1.6" height="1.3" fill="#ffffff"/><rect x="352.2" y="1229.5" width="2.4" height="1.9" fill="#c4c4c4"/><rect x="239.6" y="1253.2" width="1.6" height="1.3" fill="#f5f5f5"/><rect x="283.4" y="1228.4" width="1.2" height="1.0" fill="#9a9a9a"/><rect x="300.2" y="1298.7" width="2.0" height="1.6" fill="#b5b5b5"/><rect x="275.5" y="1221.8" width="1.6" height="1.3" fill="#ffffff"/><rect x="325.3" y="1227.4" width="2.0" height="1.6" fill="#9a9a9a"/><rect x="271.1" y="1199.2" width="2.0" height="1.6" fill="#c4c4c4"/><rect x="306.7" y="1239.2" width="1.6" height="1.3" fill="#b5b5b5"/><rect x="335.9" y="1251.0" width="2.0" height="1.6" fill="#f5f5f5"/><rect x="275.1" y="1239.2" width="1.2" height="1.0" fill="#f5f5f5"/><rect x="280.0" y="1239.4" width="2.0" height="1.6" fill="#eeeeee"/><rect x="331.2" y="1275.4" width="2.4" height="1.9" fill="#b5b5b5"/><rect x="329.9" y="1229.2" width="2.0" height="1.6" fill="#ffffff"/><rect x="243.6" y="1233.8" width="2.0" height="1.6" fill="#eeeeee"/><rect x="249.0" y="1230.9" width="1.2" height="1.0" fill="#9a9a9a"/><rect x="248.7" y="1218.7" width="2.0" height="1.6" fill="#9a9a9a"/><rect x="278.9" y="1245.9" width="1.2" height="1.0" fill="#ffffff"/><rect x="305.3" y="1215.8" width="1.6" height="1.3" fill="#ffffff"/><rect x="336.2" y="1231.8" width="2.0" height="1.6" fill="#c4c4c4"/><rect x="251.7" y="1246.8" width="2.4" height="1.9" fill="#9a9a9a"/><rect x="295.9" y="1241.1" width="1.6" height="1.3" fill="#eeeeee"/><rect x="271.8" y="1276.5" width="2.4" height="1.9" fill="#ffffff"/><rect x="247.6" y="1265.8" width="2.0" height="1.6" fill="#eeeeee"/><rect x="309.1" y="1300.2" width="1.2" height="1.0" fill="#ffffff"/><rect x="250.8" y="1220.4" width="2.0" height="1.6" fill="#b5b5b5"/><rect x="314.8" y="1224.9" width="1.2" height="1.0" fill="#9a9a9a"/><rect x="238.5" y="1218.9" width="1.6" height="1.3" fill="#ffffff"/><rect x="239.1" y="1224.8" width="1.6" height="1.3" fill="#ffffff"/><rect x="258.4" y="1275.0" width="1.2" height="1.0" fill="#9a9a9a"/><rect x="277.7" y="1232.0" width="2.4" height="1.9" fill="#9a9a9a"/><rect x="295.1" y="1244.3" width="2.0" height="1.6" fill="#ffffff"/><rect x="276.6" y="1220.0" width="2.4" height="1.9" fill="#c4c4c4"/><rect x="241.7" y="1239.2" width="2.4" height="1.9" fill="#b5b5b5"/><rect x="295.6" y="1251.4" width="1.2" height="1.0" fill="#b5b5b5"/><rect x="276.6" y="1259.2" width="1.2" height="1.0" fill="#9a9a9a"/><rect x="364.4" y="1247.3" width="1.2" height="1.0" fill="#b5b5b5"/><rect x="277.1" y="1245.4" width="2.4" height="1.9" fill="#b5b5b5"/><rect x="353.1" y="1253.9" width="2.4" height="1.9" fill="#c4c4c4"/><rect x="296.2" y="1293.3" width="1.2" height="1.0" fill="#ffffff"/><rect x="309.9" y="1254.0" width="2.4" height="1.9" fill="#f5f5f5"/><rect x="232.5" y="1237.7" width="1.6" height="1.3" fill="#eeeeee"/><rect x="259.9" y="1259.5" width="2.4" height="1.9" fill="#9a9a9a"/><rect x="310.1" y="1285.2" width="1.2" height="1.0" fill="#ffffff"/><rect x="329.2" y="1265.5" width="1.6" height="1.3" fill="#f5f5f5"/><rect x="267.0" y="1206.1" width="1.6" height="1.3" fill="#ffffff"/><rect x="242.3" y="1239.0" width="2.0" height="1.6" fill="#ffffff"/><rect x="324.8" y="1278.5" width="2.4" height="1.9" fill="#f5f5f5"/><rect x="288.7" y="1287.8" width="2.0" height="1.6" fill="#ffffff"/><rect x="308.6" y="1218.7" width="1.2" height="1.0" fill="#eeeeee"/><rect x="310.5" y="1288.8" width="2.0" height="1.6" fill="#ffffff"/><rect x="251.9" y="1245.0" width="2.4" height="1.9" fill="#ffffff"/><rect x="367.4" y="1233.2" width="2.0" height="1.6" fill="#f5f5f5"/><rect x="220.9" y="1234.3" width="1.6" height="1.3" fill="#ffffff"/><rect x="240.9" y="1229.1" width="1.6" height="1.3" fill="#b5b5b5"/><rect x="242.5" y="1232.4" width="2.0" height="1.6" fill="#f5f5f5"/><rect x="302.7" y="1270.5" width="1.6" height="1.3" fill="#c4c4c4"/><rect x="249.0" y="1272.6" width="1.6" height="1.3" fill="#ffffff"/><rect x="266.2" y="1211.7" width="2.4" height="1.9" fill="#ffffff"/><rect x="255.4" y="1250.8" width="1.6" height="1.3" fill="#f5f5f5"/><rect x="349.1" y="1260.4" width="1.2" height="1.0" fill="#f5f5f5"/><rect x="314.8" y="1249.4" width="2.4" height="1.9" fill="#c4c4c4"/><rect x="286.1" y="1204.1" width="2.0" height="1.6" fill="#c4c4c4"/><rect x="215.8" y="1248.1" width="2.0" height="1.6" fill="#ffffff"/><rect x="272.6" y="1266.5" width="2.0" height="1.6" fill="#f5f5f5"/><rect x="278.8" y="1233.0" width="2.4" height="1.9" fill="#b5b5b5"/><rect x="228.8" y="1266.9" width="2.0" height="1.6" fill="#f5f5f5"/><rect x="303.8" y="1242.1" width="1.2" height="1.0" fill="#f5f5f5"/><rect x="307.2" y="1229.8" width="1.6" height="1.3" fill="#ffffff"/><rect x="198.0" y="1258.9" width="1.6" height="1.3" fill="#ffffff"/><rect x="351.3" y="1229.5" width="2.0" height="1.6" fill="#b5b5b5"/><rect x="276.4" y="1291.1" width="2.4" height="1.9" fill="#9a9a9a"/><rect x="214.4" y="1259.9" width="1.2" height="1.0" fill="#ffffff"/><rect x="326.2" y="1252.9" width="1.6" height="1.3" fill="#ffffff"/><rect x="283.8" y="1238.9" width="2.0" height="1.6" fill="#9a9a9a"/><rect x="218.0" y="1232.9" width="2.0" height="1.6" fill="#9a9a9a"/><rect x="331.2" y="1278.3" width="1.6" height="1.3" fill="#ffffff"/><rect x="272.3" y="1232.1" width="1.2" height="1.0" fill="#f5f5f5"/><rect x="258.7" y="1270.2" width="2.0" height="1.6" fill="#f5f5f5"/><rect x="349.3" y="1263.1" width="1.2" height="1.0" fill="#b5b5b5"/><rect x="325.1" y="1248.4" width="1.6" height="1.3" fill="#ffffff"/><rect x="329.3" y="1247.5" width="2.4" height="1.9" fill="#f5f5f5"/><rect x="338.3" y="1243.2" width="1.2" height="1.0" fill="#ffffff"/><rect x="339.8" y="1243.7" width="2.0" height="1.6" fill="#f5f5f5"/><rect x="206.1" y="1255.0" width="2.0" height="1.6" fill="#f5f5f5"/><rect x="306.4" y="1245.5" width="2.0" height="1.6" fill="#ffffff"/><rect x="283.9" y="1296.7" width="1.2" height="1.0" fill="#c4c4c4"/><rect x="312.0" y="1286.1" width="2.0" height="1.6" fill="#9a9a9a"/><rect x="313.1" y="1242.2" width="2.4" height="1.9" fill="#f5f5f5"/><rect x="272.6" y="1229.8" width="2.4" height="1.9" fill="#c4c4c4"/><rect x="190.6" y="1257.0" width="1.2" height="1.0" fill="#ffffff"/><rect x="295.4" y="1243.0" width="1.2" height="1.0" fill="#ffffff"/><rect x="319.3" y="1288.5" width="1.6" height="1.3" fill="#c4c4c4"/><rect x="291.3" y="1235.6" width="1.6" height="1.3" fill="#ffffff"/><rect x="335.0" y="1229.9" width="1.6" height="1.3" fill="#ffffff"/><rect x="290.5" y="1263.5" width="1.6" height="1.3" fill="#c4c4c4"/><rect x="304.1" y="1295.2" width="2.4" height="1.9" fill="#ffffff"/><rect x="354.6" y="1232.9" width="1.6" height="1.3" fill="#ffffff"/><rect x="281.9" y="1214.9" width="2.4" height="1.9" fill="#9a9a9a"/><rect x="305.8" y="1302.1" width="2.4" height="1.9" fill="#9a9a9a"/><rect x="316.7" y="1216.6" width="1.6" height="1.3" fill="#9a9a9a"/><rect x="241.0" y="1231.1" width="1.2" height="1.0" fill="#9a9a9a"/><rect x="317.9" y="1222.2" width="2.0" height="1.6" fill="#eeeeee"/><rect x="209.2" y="1239.5" width="1.2" height="1.0" fill="#9a9a9a"/><rect x="231.0" y="1264.2" width="2.0" height="1.6" fill="#c4c4c4"/><rect x="211.4" y="1260.2" width="2.4" height="1.9" fill="#ffffff"/><rect x="295.7" y="1278.4" width="1.6" height="1.3" fill="#ffffff"/><rect x="229.2" y="1246.7" width="2.0" height="1.6" fill="#ffffff"/><rect x="224.4" y="1228.8" width="2.4" height="1.9" fill="#ffffff"/><rect x="268.7" y="1199.5" width="2.0" height="1.6" fill="#ffffff"/><rect x="328.9" y="1219.8" width="1.6" height="1.3" fill="#ffffff"/><rect x="313.9" y="1275.2" width="1.2" height="1.0" fill="#eeeeee"/><rect x="307.5" y="1218.0" width="2.0" height="1.6" fill="#ffffff"/><rect x="275.9" y="1208.3" width="1.2" height="1.0" fill="#ffffff"/><rect x="288.2" y="1210.9" width="2.4" height="1.9" fill="#c4c4c4"/><rect x="344.4" y="1259.8" width="1.2" height="1.0" fill="#c4c4c4"/><rect x="264.0" y="1250.5" width="2.4" height="1.9" fill="#9a9a9a"/><rect x="214.6" y="1265.4" width="2.0" height="1.6" fill="#ffffff"/><rect x="274.8" y="1240.7" width="2.0" height="1.6" fill="#c4c4c4"/><rect x="262.6" y="1245.1" width="2.0" height="1.6" fill="#ffffff"/><rect x="314.5" y="1230.4" width="2.0" height="1.6" fill="#ffffff"/><rect x="261.1" y="1287.7" width="1.6" height="1.3" fill="#b5b5b5"/><rect x="197.6" y="1262.4" width="1.2" height="1.0" fill="#ffffff"/><rect x="276.9" y="1291.4" width="2.4" height="1.9" fill="#ffffff"/><rect x="261.6" y="1272.8" width="1.2" height="1.0" fill="#c4c4c4"/><rect x="295.3" y="1220.5" width="1.2" height="1.0" fill="#ffffff"/><rect x="281.8" y="1223.8" width="1.6" height="1.3" fill="#c4c4c4"/><rect x="301.1" y="1257.9" width="1.2" height="1.0" fill="#ffffff"/><rect x="267.4" y="1277.8" width="1.6" height="1.3" fill="#ffffff"/><rect x="315.3" y="1281.5" width="1.2" height="1.0" fill="#ffffff"/><rect x="297.5" y="1271.6" width="1.2" height="1.0" fill="#c4c4c4"/><rect x="290.8" y="1213.5" width="2.0" height="1.6" fill="#c4c4c4"/><rect x="333.3" y="1274.1" width="1.2" height="1.0" fill="#ffffff"/><rect x="308.2" y="1237.4" width="1.2" height="1.0" fill="#ffffff"/><rect x="256.1" y="1262.6" width="1.2" height="1.0" fill="#f5f5f5"/><rect x="283.4" y="1259.4" width="1.2" height="1.0" fill="#ffffff"/><rect x="293.3" y="1287.8" width="1.6" height="1.3" fill="#ffffff"/><rect x="254.6" y="1246.7" width="2.4" height="1.9" fill="#ffffff"/><rect x="221.8" y="1244.5" width="1.6" height="1.3" fill="#ffffff"/><rect x="286.0" y="1278.1" width="2.0" height="1.6" fill="#ffffff"/><rect x="286.6" y="1269.0" width="1.6" height="1.3" fill="#ffffff"/><rect x="208.5" y="1249.3" width="1.6" height="1.3" fill="#ffffff"/><rect x="202.6" y="1255.8" width="2.0" height="1.6" fill="#ffffff"/><rect x="284.1" y="1253.6" width="2.4" height="1.9" fill="#b5b5b5"/><rect x="224.3" y="1241.6" width="2.0" height="1.6" fill="#b5b5b5"/><rect x="285.8" y="1284.1" width="1.6" height="1.3" fill="#b5b5b5"/><rect x="260.4" y="1217.4" width="1.2" height="1.0" fill="#ffffff"/><rect x="359.9" y="1241.1" width="1.2" height="1.0" fill="#9a9a9a"/><rect x="361.4" y="1232.6" width="1.2" height="1.0" fill="#ffffff"/><rect x="269.8" y="1242.3" width="1.2" height="1.0" fill="#ffffff"/><rect x="366.8" y="1228.9" width="1.6" height="1.3" fill="#ffffff"/><rect x="317.2" y="1241.1" width="1.2" height="1.0" fill="#9a9a9a"/><rect x="267.7" y="1284.2" width="2.4" height="1.9" fill="#c4c4c4"/><rect x="255.4" y="1266.5" width="2.4" height="1.9" fill="#ffffff"/><rect x="308.4" y="1252.0" width="1.6" height="1.3" fill="#ffffff"/><rect x="212.3" y="1233.0" width="1.6" height="1.3" fill="#eeeeee"/><rect x="273.2" y="1200.9" width="1.2" height="1.0" fill="#f5f5f5"/><rect x="318.7" y="1240.4" width="2.0" height="1.6" fill="#f5f5f5"/><rect x="285.6" y="1262.9" width="1.2" height="1.0" fill="#9a9a9a"/><rect x="300.5" y="1207.8" width="2.4" height="1.9" fill="#ffffff"/><rect x="318.4" y="1230.6" width="2.4" height="1.9" fill="#ffffff"/><rect x="324.2" y="1252.3" width="2.0" height="1.6" fill="#f5f5f5"/><rect x="227.6" y="1275.7" width="2.4" height="1.9" fill="#9a9a9a"/><rect x="349.5" y="1261.7" width="1.6" height="1.3" fill="#ffffff"/><rect x="307.4" y="1218.6" width="1.2" height="1.0" fill="#c4c4c4"/><rect x="320.1" y="1220.8" width="2.4" height="1.9" fill="#ffffff"/><rect x="226.1" y="1269.4" width="2.0" height="1.6" fill="#ffffff"/><rect x="330.6" y="1240.8" width="2.4" height="1.9" fill="#ffffff"/><rect x="229.9" y="1272.6" width="2.0" height="1.6" fill="#eeeeee"/><rect x="210.7" y="1268.6" width="2.4" height="1.9" fill="#b5b5b5"/><rect x="316.6" y="1279.9" width="2.0" height="1.6" fill="#ffffff"/><rect x="296.5" y="1266.3" width="2.0" height="1.6" fill="#c4c4c4"/><rect x="364.0" y="1231.8" width="2.0" height="1.6" fill="#f5f5f5"/><rect x="279.8" y="1289.9" width="1.6" height="1.3" fill="#f5f5f5"/><rect x="338.1" y="1234.0" width="1.2" height="1.0" fill="#f5f5f5"/><rect x="305.5" y="1245.7" width="2.4" height="1.9" fill="#f5f5f5"/><rect x="341.5" y="1267.1" width="1.2" height="1.0" fill="#b5b5b5"/><rect x="334.1" y="1276.8" width="1.2" height="1.0" fill="#ffffff"/><rect x="230.7" y="1256.4" width="2.4" height="1.9" fill="#b5b5b5"/><rect x="282.3" y="1265.0" width="2.0" height="1.6" fill="#eeeeee"/><rect x="322.2" y="1275.4" width="2.4" height="1.9" fill="#ffffff"/><rect x="267.1" y="1200.8" width="1.6" height="1.3" fill="#f5f5f5"/><rect x="311.4" y="1255.1" width="1.6" height="1.3" fill="#ffffff"/><rect x="257.5" y="1203.3" width="2.4" height="1.9" fill="#ffffff"/><rect x="277.8" y="1251.1" width="1.2" height="1.0" fill="#b5b5b5"/><rect x="264.3" y="1289.2" width="1.2" height="1.0" fill="#ffffff"/><rect x="236.2" y="1262.4" width="2.0" height="1.6" fill="#c4c4c4"/><rect x="334.7" y="1232.8" width="2.4" height="1.9" fill="#f5f5f5"/><rect x="309.2" y="1225.1" width="2.0" height="1.6" fill="#b5b5b5"/><rect x="284.1" y="1222.7" width="1.6" height="1.3" fill="#9a9a9a"/><rect x="205.1" y="1267.8" width="2.4" height="1.9" fill="#ffffff"/><rect x="201.3" y="1251.1" width="2.0" height="1.6" fill="#ffffff"/><rect x="331.2" y="1220.8" width="2.0" height="1.6" fill="#b5b5b5"/><rect x="227.5" y="1255.0" width="1.2" height="1.0" fill="#f5f5f5"/><rect x="246.0" y="1227.7" width="2.0" height="1.6" fill="#c4c4c4"/><rect x="316.6" y="1223.2" width="1.6" height="1.3" fill="#b5b5b5"/><rect x="256.6" y="1276.8" width="2.0" height="1.6" fill="#ffffff"/><rect x="323.7" y="1226.1" width="1.6" height="1.3" fill="#ffffff"/><rect x="287.8" y="1275.4" width="1.6" height="1.3" fill="#eeeeee"/><rect x="256.9" y="1238.7" width="1.2" height="1.0" fill="#ffffff"/><rect x="338.1" y="1262.9" width="2.0" height="1.6" fill="#ffffff"/><rect x="305.5" y="1283.3" width="2.0" height="1.6" fill="#f5f5f5"/><rect x="268.4" y="1290.9" width="1.2" height="1.0" fill="#9a9a9a"/><rect x="295.3" y="1296.4" width="1.6" height="1.3" fill="#c4c4c4"/><rect x="308.5" y="1241.6" width="2.0" height="1.6" fill="#ffffff"/><rect x="253.4" y="1280.2" width="1.2" height="1.0" fill="#ffffff"/><rect x="303.4" y="1278.1" width="1.6" height="1.3" fill="#ffffff"/><rect x="315.9" y="1228.3" width="1.2" height="1.0" fill="#b5b5b5"/><rect x="278.5" y="1258.3" width="2.4" height="1.9" fill="#eeeeee"/><rect x="352.2" y="1252.7" width="1.6" height="1.3" fill="#eeeeee"/><rect x="262.5" y="1208.3" width="1.2" height="1.0" fill="#eeeeee"/><rect x="271.7" y="1259.0" width="1.2" height="1.0" fill="#ffffff"/><rect x="236.5" y="1219.8" width="2.4" height="1.9" fill="#ffffff"/><rect x="323.6" y="1287.8" width="2.4" height="1.9" fill="#ffffff"/><rect x="316.5" y="1288.0" width="1.6" height="1.3" fill="#ffffff"/><rect x="203.3" y="1259.3" width="2.4" height="1.9" fill="#ffffff"/><rect x="245.2" y="1221.7" width="2.0" height="1.6" fill="#f5f5f5"/><rect x="243.8" y="1225.7" width="2.0" height="1.6" fill="#f5f5f5"/><rect x="268.6" y="1252.5" width="1.6" height="1.3" fill="#ffffff"/><rect x="327.7" y="1233.6" width="1.6" height="1.3" fill="#ffffff"/><rect x="348.0" y="1238.3" width="2.0" height="1.6" fill="#eeeeee"/><rect x="229.2" y="1271.3" width="2.4" height="1.9" fill="#ffffff"/><rect x="247.2" y="1270.2" width="2.4" height="1.9" fill="#b5b5b5"/><rect x="349.9" y="1225.8" width="1.6" height="1.3" fill="#b5b5b5"/><rect x="360.6" y="1233.4" width="2.0" height="1.6" fill="#b5b5b5"/><rect x="264.5" y="1283.5" width="1.2" height="1.0" fill="#f5f5f5"/><rect x="302.9" y="1208.3" width="2.4" height="1.9" fill="#c4c4c4"/><rect x="339.3" y="1244.1" width="2.4" height="1.9" fill="#c4c4c4"/><rect x="305.0" y="1227.3" width="2.4" height="1.9" fill="#ffffff"/><rect x="335.7" y="1248.6" width="1.6" height="1.3" fill="#ffffff"/><rect x="202.2" y="1259.3" width="1.2" height="1.0" fill="#c4c4c4"/><rect x="262.3" y="1210.3" width="2.4" height="1.9" fill="#ffffff"/><rect x="263.6" y="1273.8" width="1.2" height="1.0" fill="#b5b5b5"/><rect x="210.7" y="1237.2" width="1.6" height="1.3" fill="#ffffff"/><rect x="275.8" y="1268.5" width="1.6" height="1.3" fill="#ffffff"/><rect x="282.8" y="1256.6" width="2.4" height="1.9" fill="#eeeeee"/><rect x="208.1" y="1267.5" width="1.2" height="1.0" fill="#ffffff"/><rect x="347.7" y="1234.2" width="1.2" height="1.0" fill="#f5f5f5"/><rect x="251.8" y="1252.0" width="1.6" height="1.3" fill="#f5f5f5"/><rect x="351.5" y="1247.4" width="2.0" height="1.6" fill="#b5b5b5"/><rect x="229.4" y="1257.9" width="2.0" height="1.6" fill="#eeeeee"/><rect x="245.2" y="1229.7" width="2.0" height="1.6" fill="#ffffff"/><rect x="285.6" y="1293.7" width="1.2" height="1.0" fill="#ffffff"/><rect x="273.8" y="1268.9" width="1.2" height="1.0" fill="#ffffff"/><rect x="256.9" y="1222.9" width="2.0" height="1.6" fill="#ffffff"/><rect x="273.1" y="1208.6" width="1.6" height="1.3" fill="#ffffff"/><rect x="327.5" y="1221.5" width="2.0" height="1.6" fill="#eeeeee"/><rect x="240.4" y="1223.6" width="1.6" height="1.3" fill="#b5b5b5"/><rect x="335.7" y="1276.7" width="1.6" height="1.3" fill="#f5f5f5"/><rect x="283.9" y="1273.0" width="2.4" height="1.9" fill="#ffffff"/><rect x="260.4" y="1211.7" width="1.2" height="1.0" fill="#b5b5b5"/><rect x="308.8" y="1251.3" width="2.0" height="1.6" fill="#eeeeee"/><rect x="230.5" y="1235.5" width="2.0" height="1.6" fill="#ffffff"/><rect x="214.3" y="1233.9" width="2.4" height="1.9" fill="#ffffff"/><rect x="264.4" y="1214.5" width="1.6" height="1.3" fill="#ffffff"/><rect x="329.0" y="1232.4" width="1.6" height="1.3" fill="#ffffff"/><rect x="278.7" y="1277.4" width="2.4" height="1.9" fill="#f5f5f5"/><rect x="251.7" y="1271.3" width="1.6" height="1.3" fill="#ffffff"/><rect x="223.7" y="1265.1" width="2.0" height="1.6" fill="#b5b5b5"/><rect x="308.3" y="1231.1" width="2.0" height="1.6" fill="#b5b5b5"/><rect x="261.2" y="1246.8" width="2.0" height="1.6" fill="#f5f5f5"/><rect x="373.5" y="1231.9" width="2.0" height="1.6" fill="#ffffff"/><rect x="288.9" y="1261.0" width="1.2" height="1.0" fill="#ffffff"/><rect x="229.1" y="1221.0" width="2.4" height="1.9" fill="#eeeeee"/><rect x="342.8" y="1269.9" width="2.0" height="1.6" fill="#9a9a9a"/><rect x="244.7" y="1218.5" width="2.4" height="1.9" fill="#ffffff"/><rect x="296.8" y="1231.1" width="2.4" height="1.9" fill="#f5f5f5"/><rect x="273.1" y="1258.1" width="1.2" height="1.0" fill="#f5f5f5"/><rect x="307.5" y="1287.9" width="1.6" height="1.3" fill="#f5f5f5"/><rect x="269.9" y="1270.0" width="1.2" height="1.0" fill="#b5b5b5"/><rect x="297.6" y="1257.6" width="2.4" height="1.9" fill="#eeeeee"/><rect x="251.7" y="1210.7" width="2.0" height="1.6" fill="#f5f5f5"/><rect x="249.7" y="1256.7" width="2.4" height="1.9" fill="#ffffff"/><rect x="285.8" y="1297.2" width="2.0" height="1.6" fill="#c4c4c4"/><rect x="280.9" y="1201.7" width="2.0" height="1.6" fill="#b5b5b5"/><rect x="315.6" y="1224.1" width="1.6" height="1.3" fill="#ffffff"/><rect x="264.8" y="1261.9" width="2.4" height="1.9" fill="#f5f5f5"/><rect x="244.0" y="1240.4" width="2.0" height="1.6" fill="#c4c4c4"/><rect x="277.9" y="1268.2" width="1.6" height="1.3" fill="#ffffff"/><rect x="286.0" y="1204.3" width="2.0" height="1.6" fill="#9a9a9a"/><rect x="267.9" y="1222.8" width="2.4" height="1.9" fill="#c4c4c4"/><rect x="287.2" y="1272.9" width="2.4" height="1.9" fill="#b5b5b5"/><rect x="324.0" y="1268.1" width="2.4" height="1.9" fill="#c4c4c4"/><rect x="293.6" y="1249.4" width="1.6" height="1.3" fill="#c4c4c4"/><rect x="355.9" y="1249.3" width="2.0" height="1.6" fill="#ffffff"/><rect x="308.6" y="1304.3" width="2.0" height="1.6" fill="#ffffff"/><rect x="361.6" y="1246.7" width="1.2" height="1.0" fill="#ffffff"/><rect x="290.4" y="1297.2" width="2.0" height="1.6" fill="#f5f5f5"/><rect x="186.4" y="1256.0" width="2.4" height="1.9" fill="#9a9a9a"/><rect x="316.3" y="1214.8" width="1.2" height="1.0" fill="#eeeeee"/><rect x="346.0" y="1252.7" width="2.4" height="1.9" fill="#eeeeee"/><rect x="264.8" y="1243.6" width="2.4" height="1.9" fill="#ffffff"/><rect x="334.0" y="1267.2" width="1.6" height="1.3" fill="#eeeeee"/><rect x="304.1" y="1226.1" width="1.6" height="1.3" fill="#b5b5b5"/><rect x="262.8" y="1280.1" width="1.2" height="1.0" fill="#eeeeee"/><rect x="243.6" y="1233.9" width="1.6" height="1.3" fill="#ffffff"/><rect x="255.0" y="1198.4" width="1.2" height="1.0" fill="#b5b5b5"/><rect x="299.2" y="1206.7" width="1.6" height="1.3" fill="#ffffff"/><rect x="259.3" y="1270.5" width="1.2" height="1.0" fill="#ffffff"/><rect x="298.4" y="1291.2" width="1.2" height="1.0" fill="#ffffff"/><rect x="226.0" y="1250.5" width="2.0" height="1.6" fill="#ffffff"/><rect x="252.1" y="1220.6" width="2.4" height="1.9" fill="#eeeeee"/><rect x="287.3" y="1278.5" width="1.6" height="1.3" fill="#c4c4c4"/><rect x="246.7" y="1206.5" width="1.2" height="1.0" fill="#f5f5f5"/><rect x="259.6" y="1270.0" width="2.0" height="1.6" fill="#b5b5b5"/><rect x="210.6" y="1235.0" width="2.0" height="1.6" fill="#ffffff"/><rect x="315.2" y="1259.8" width="2.0" height="1.6" fill="#c4c4c4"/><rect x="247.6" y="1221.0" width="2.4" height="1.9" fill="#9a9a9a"/><rect x="261.3" y="1238.1" width="2.4" height="1.9" fill="#9a9a9a"/><rect x="235.9" y="1245.4" width="2.0" height="1.6" fill="#ffffff"/><rect x="257.3" y="1272.8" width="2.4" height="1.9" fill="#b5b5b5"/><rect x="207.9" y="1238.8" width="2.4" height="1.9" fill="#c4c4c4"/><rect x="275.0" y="1257.7" width="2.4" height="1.9" fill="#ffffff"/><rect x="262.7" y="1264.5" width="2.4" height="1.9" fill="#b5b5b5"/><rect x="336.8" y="1268.4" width="1.6" height="1.3" fill="#9a9a9a"/><rect x="321.4" y="1222.5" width="1.6" height="1.3" fill="#c4c4c4"/><rect x="343.5" y="1244.5" width="2.0" height="1.6" fill="#f5f5f5"/><rect x="228.8" y="1275.4" width="1.6" height="1.3" fill="#ffffff"/><rect x="246.3" y="1210.6" width="2.4" height="1.9" fill="#ffffff"/><rect x="270.3" y="1217.5" width="2.4" height="1.9" fill="#eeeeee"/><rect x="305.8" y="1227.2" width="1.6" height="1.3" fill="#f5f5f5"/><rect x="268.5" y="1217.7" width="2.4" height="1.9" fill="#b5b5b5"/><rect x="287.5" y="1236.6" width="2.4" height="1.9" fill="#ffffff"/><rect x="302.2" y="1223.2" width="1.6" height="1.3" fill="#9a9a9a"/><rect x="366.4" y="1244.5" width="1.2" height="1.0" fill="#eeeeee"/><rect x="211.9" y="1243.2" width="2.4" height="1.9" fill="#f5f5f5"/><rect x="290.4" y="1257.3" width="1.6" height="1.3" fill="#eeeeee"/><rect x="272.7" y="1225.9" width="2.0" height="1.6" fill="#f5f5f5"/><rect x="278.7" y="1245.9" width="2.4" height="1.9" fill="#ffffff"/><rect x="321.3" y="1222.9" width="2.4" height="1.9" fill="#ffffff"/><rect x="271.8" y="1249.2" width="2.0" height="1.6" fill="#b5b5b5"/><rect x="228.0" y="1250.7" width="2.4" height="1.9" fill="#eeeeee"/><rect x="228.2" y="1275.3" width="2.4" height="1.9" fill="#b5b5b5"/><rect x="308.4" y="1229.4" width="1.2" height="1.0" fill="#ffffff"/><rect x="302.5" y="1276.1" width="1.6" height="1.3" fill="#ffffff"/><rect x="212.6" y="1242.4" width="1.2" height="1.0" fill="#f5f5f5"/><rect x="294.1" y="1278.4" width="2.0" height="1.6" fill="#9a9a9a"/><rect x="334.5" y="1224.2" width="2.0" height="1.6" fill="#ffffff"/><rect x="350.9" y="1224.5" width="2.4" height="1.9" fill="#c4c4c4"/><rect x="352.8" y="1250.2" width="2.0" height="1.6" fill="#f5f5f5"/><rect x="281.5" y="1289.6" width="2.4" height="1.9" fill="#9a9a9a"/><rect x="260.3" y="1199.0" width="1.6" height="1.3" fill="#ffffff"/><rect x="265.7" y="1217.4" width="2.0" height="1.6" fill="#f5f5f5"/><rect x="249.5" y="1239.2" width="1.2" height="1.0" fill="#ffffff"/><rect x="269.9" y="1235.8" width="2.0" height="1.6" fill="#f5f5f5"/><rect x="235.1" y="1241.8" width="2.4" height="1.9" fill="#ffffff"/><rect x="296.2" y="1287.5" width="2.0" height="1.6" fill="#9a9a9a"/><rect x="286.0" y="1211.5" width="1.6" height="1.3" fill="#9a9a9a"/><rect x="239.1" y="1239.1" width="1.6" height="1.3" fill="#c4c4c4"/><rect x="200.6" y="1255.9" width="2.4" height="1.9" fill="#b5b5b5"/><rect x="246.6" y="1259.4" width="2.0" height="1.6" fill="#b5b5b5"/><rect x="223.9" y="1259.7" width="2.0" height="1.6" fill="#ffffff"/><rect x="308.5" y="1270.9" width="2.4" height="1.9" fill="#f5f5f5"/><rect x="314.0" y="1287.3" width="2.4" height="1.9" fill="#ffffff"/><rect x="354.8" y="1232.5" width="2.4" height="1.9" fill="#ffffff"/><rect x="237.7" y="1236.2" width="2.0" height="1.6" fill="#ffffff"/><rect x="283.1" y="1257.6" width="1.2" height="1.0" fill="#9a9a9a"/><rect x="340.0" y="1268.7" width="1.2" height="1.0" fill="#c4c4c4"/><rect x="306.0" y="1223.3" width="1.6" height="1.3" fill="#ffffff"/><rect x="323.6" y="1279.6" width="2.4" height="1.9" fill="#f5f5f5"/><rect x="310.2" y="1233.7" width="2.0" height="1.6" fill="#eeeeee"/><rect x="312.0" y="1224.3" width="2.0" height="1.6" fill="#9a9a9a"/><rect x="226.8" y="1270.0" width="2.0" height="1.6" fill="#ffffff"/><rect x="319.6" y="1233.6" width="1.2" height="1.0" fill="#ffffff"/><rect x="289.0" y="1261.9" width="1.6" height="1.3" fill="#eeeeee"/><rect x="286.9" y="1230.8" width="1.2" height="1.0" fill="#9a9a9a"/><rect x="323.3" y="1237.3" width="1.2" height="1.0" fill="#f5f5f5"/><rect x="333.9" y="1267.0" width="2.4" height="1.9" fill="#f5f5f5"/><rect x="234.8" y="1237.3" width="2.0" height="1.6" fill="#b5b5b5"/><rect x="269.5" y="1225.5" width="2.4" height="1.9" fill="#ffffff"/><rect x="279.4" y="1203.5" width="1.6" height="1.3" fill="#c4c4c4"/><rect x="305.4" y="1260.0" width="2.4" height="1.9" fill="#b5b5b5"/><rect x="305.2" y="1233.3" width="2.4" height="1.9" fill="#f5f5f5"/><rect x="266.9" y="1201.6" width="2.4" height="1.9" fill="#ffffff"/><rect x="346.9" y="1266.7" width="2.0" height="1.6" fill="#ffffff"/><rect x="313.1" y="1230.0" width="2.4" height="1.9" fill="#c4c4c4"/><rect x="240.3" y="1257.8" width="2.0" height="1.6" fill="#9a9a9a"/><rect x="259.6" y="1243.0" width="1.2" height="1.0" fill="#9a9a9a"/><rect x="299.0" y="1264.5" width="1.2" height="1.0" fill="#b5b5b5"/><rect x="300.7" y="1236.7" width="2.4" height="1.9" fill="#ffffff"/><rect x="328.5" y="1251.2" width="2.0" height="1.6" fill="#ffffff"/><rect x="289.1" y="1233.4" width="2.4" height="1.9" fill="#ffffff"/><rect x="275.2" y="1242.8" width="1.6" height="1.3" fill="#ffffff"/><rect x="321.4" y="1249.2" width="2.0" height="1.6" fill="#ffffff"/><rect x="331.3" y="1238.4" width="2.4" height="1.9" fill="#c4c4c4"/><rect x="288.5" y="1225.7" width="2.4" height="1.9" fill="#ffffff"/><rect x="271.8" y="1206.8" width="1.2" height="1.0" fill="#f5f5f5"/><rect x="297.5" y="1234.7" width="1.2" height="1.0" fill="#ffffff"/><rect x="344.2" y="1257.8" width="2.0" height="1.6" fill="#ffffff"/><rect x="277.0" y="1254.3" width="2.0" height="1.6" fill="#f5f5f5"/><rect x="267.1" y="1214.9" width="2.4" height="1.9" fill="#ffffff"/><rect x="277.5" y="1276.8" width="1.6" height="1.3" fill="#ffffff"/><rect x="303.9" y="1287.1" width="1.6" height="1.3" fill="#eeeeee"/><rect x="276.5" y="1246.3" width="2.0" height="1.6" fill="#f5f5f5"/><rect x="236.3" y="1218.4" width="2.0" height="1.6" fill="#eeeeee"/><rect x="323.3" y="1245.6" width="1.6" height="1.3" fill="#ffffff"/><rect x="346.3" y="1255.2" width="2.0" height="1.6" fill="#ffffff"/><rect x="323.8" y="1283.2" width="1.2" height="1.0" fill="#ffffff"/><rect x="253.4" y="1215.0" width="1.2" height="1.0" fill="#f5f5f5"/><rect x="328.3" y="1251.7" width="2.0" height="1.6" fill="#ffffff"/><rect x="315.6" y="1252.9" width="2.4" height="1.9" fill="#ffffff"/><rect x="298.0" y="1219.7" width="2.0" height="1.6" fill="#eeeeee"/><rect x="256.2" y="1207.5" width="1.6" height="1.3" fill="#c4c4c4"/><rect x="267.1" y="1244.3" width="2.0" height="1.6" fill="#f5f5f5"/><rect x="366.4" y="1243.2" width="2.4" height="1.9" fill="#f5f5f5"/><rect x="330.7" y="1239.0" width="1.6" height="1.3" fill="#b5b5b5"/><rect x="256.9" y="1206.1" width="1.2" height="1.0" fill="#b5b5b5"/><rect x="259.6" y="1279.6" width="2.4" height="1.9" fill="#ffffff"/><rect x="339.1" y="1271.0" width="1.6" height="1.3" fill="#ffffff"/><rect x="320.7" y="1233.2" width="1.6" height="1.3" fill="#ffffff"/><rect x="284.0" y="1211.1" width="1.2" height="1.0" fill="#9a9a9a"/><rect x="254.1" y="1241.5" width="1.6" height="1.3" fill="#eeeeee"/><rect x="358.6" y="1253.3" width="2.0" height="1.6" fill="#eeeeee"/><rect x="370.8" y="1237.5" width="1.2" height="1.0" fill="#b5b5b5"/><rect x="226.0" y="1270.2" width="1.2" height="1.0" fill="#f5f5f5"/><rect x="334.5" y="1221.8" width="2.0" height="1.6" fill="#ffffff"/><rect x="306.5" y="1221.7" width="2.0" height="1.6" fill="#ffffff"/><rect x="242.3" y="1276.7" width="1.2" height="1.0" fill="#ffffff"/><rect x="276.4" y="1251.5" width="2.0" height="1.6" fill="#ffffff"/><rect x="240.2" y="1228.0" width="2.0" height="1.6" fill="#ffffff"/><rect x="272.1" y="1236.1" width="1.6" height="1.3" fill="#b5b5b5"/><rect x="277.7" y="1269.3" width="2.4" height="1.9" fill="#eeeeee"/><rect x="321.9" y="1258.4" width="2.0" height="1.6" fill="#b5b5b5"/><rect x="246.9" y="1257.6" width="1.6" height="1.3" fill="#f5f5f5"/><rect x="371.1" y="1237.3" width="2.4" height="1.9" fill="#c4c4c4"/><rect x="248.7" y="1253.1" width="1.6" height="1.3" fill="#ffffff"/><rect x="262.5" y="1206.3" width="1.2" height="1.0" fill="#b5b5b5"/><rect x="259.1" y="1258.1" width="2.4" height="1.9" fill="#eeeeee"/><rect x="354.8" y="1233.5" width="2.4" height="1.9" fill="#b5b5b5"/><rect x="210.2" y="1242.8" width="1.2" height="1.0" fill="#9a9a9a"/><rect x="273.5" y="1285.2" width="1.2" height="1.0" fill="#ffffff"/><rect x="253.1" y="1269.1" width="1.2" height="1.0" fill="#9a9a9a"/><rect x="227.4" y="1264.3" width="1.6" height="1.3" fill="#ffffff"/><rect x="303.9" y="1248.8" width="1.6" height="1.3" fill="#f5f5f5"/><rect x="285.0" y="1258.9" width="2.0" height="1.6" fill="#c4c4c4"/><rect x="318.4" y="1249.0" width="1.2" height="1.0" fill="#c4c4c4"/><rect x="204.0" y="1257.7" width="1.6" height="1.3" fill="#c4c4c4"/><rect x="255.1" y="1231.3" width="2.4" height="1.9" fill="#eeeeee"/><rect x="260.6" y="1213.4" width="1.2" height="1.0" fill="#9a9a9a"/><rect x="318.5" y="1229.6" width="1.2" height="1.0" fill="#ffffff"/><rect x="261.6" y="1254.5" width="1.6" height="1.3" fill="#ffffff"/><rect x="241.1" y="1267.2" width="1.2" height="1.0" fill="#9a9a9a"/><rect x="251.5" y="1246.7" width="2.4" height="1.9" fill="#eeeeee"/><rect x="278.7" y="1264.5" width="2.4" height="1.9" fill="#ffffff"/><rect x="321.2" y="1266.1" width="2.4" height="1.9" fill="#f5f5f5"/><rect x="265.9" y="1230.0" width="2.4" height="1.9" fill="#ffffff"/><rect x="240.5" y="1241.7" width="2.4" height="1.9" fill="#ffffff"/><rect x="251.1" y="1226.6" width="1.6" height="1.3" fill="#ffffff"/><rect x="316.6" y="1283.5" width="1.6" height="1.3" fill="#f5f5f5"/><rect x="195.8" y="1246.4" width="1.6" height="1.3" fill="#ffffff"/><rect x="350.4" y="1241.3" width="2.0" height="1.6" fill="#eeeeee"/><rect x="309.4" y="1251.1" width="1.6" height="1.3" fill="#b5b5b5"/><rect x="268.6" y="1244.4" width="1.2" height="1.0" fill="#b5b5b5"/><rect x="252.9" y="1240.7" width="2.0" height="1.6" fill="#f5f5f5"/><rect x="274.1" y="1201.5" width="2.4" height="1.9" fill="#ffffff"/><rect x="257.2" y="1252.2" width="1.2" height="1.0" fill="#b5b5b5"/><rect x="322.9" y="1263.6" width="2.4" height="1.9" fill="#ffffff"/><rect x="282.5" y="1265.2" width="1.6" height="1.3" fill="#ffffff"/><rect x="304.8" y="1226.7" width="2.0" height="1.6" fill="#9a9a9a"/><rect x="306.2" y="1270.3" width="2.0" height="1.6" fill="#f5f5f5"/><rect x="343.4" y="1238.3" width="1.2" height="1.0" fill="#c4c4c4"/><rect x="220.5" y="1270.5" width="2.4" height="1.9" fill="#ffffff"/><rect x="285.9" y="1293.4" width="2.0" height="1.6" fill="#ffffff"/><rect x="324.0" y="1238.9" width="2.4" height="1.9" fill="#ffffff"/><rect x="319.4" y="1218.4" width="1.6" height="1.3" fill="#b5b5b5"/><rect x="243.6" y="1234.3" width="1.6" height="1.3" fill="#b5b5b5"/><rect x="319.0" y="1247.2" width="2.0" height="1.6" fill="#ffffff"/><rect x="255.1" y="1227.2" width="2.4" height="1.9" fill="#c4c4c4"/><rect x="302.5" y="1257.6" width="2.4" height="1.9" fill="#ffffff"/><rect x="312.2" y="1298.0" width="1.6" height="1.3" fill="#ffffff"/><rect x="283.4" y="1247.5" width="2.0" height="1.6" fill="#c4c4c4"/><rect x="333.5" y="1249.1" width="1.6" height="1.3" fill="#ffffff"/><rect x="214.9" y="1235.9" width="2.4" height="1.9" fill="#eeeeee"/><rect x="307.7" y="1289.4" width="1.2" height="1.0" fill="#eeeeee"/><rect x="193.6" y="1258.3" width="1.2" height="1.0" fill="#f5f5f5"/><rect x="298.8" y="1273.3" width="2.0" height="1.6" fill="#b5b5b5"/><rect x="353.9" y="1243.9" width="2.0" height="1.6" fill="#ffffff"/><rect x="345.6" y="1225.4" width="2.0" height="1.6" fill="#b5b5b5"/><rect x="207.0" y="1252.2" width="2.0" height="1.6" fill="#b5b5b5"/><rect x="232.6" y="1272.2" width="2.4" height="1.9" fill="#c4c4c4"/><rect x="294.2" y="1288.4" width="2.0" height="1.6" fill="#ffffff"/><rect x="267.5" y="1239.3" width="1.2" height="1.0" fill="#ffffff"/><rect x="315.6" y="1256.0" width="1.6" height="1.3" fill="#9a9a9a"/><rect x="314.2" y="1216.8" width="1.2" height="1.0" fill="#ffffff"/><rect x="351.1" y="1229.0" width="1.6" height="1.3" fill="#f5f5f5"/><rect x="310.9" y="1303.1" width="2.0" height="1.6" fill="#eeeeee"/><rect x="269.1" y="1286.3" width="1.2" height="1.0" fill="#eeeeee"/><rect x="309.6" y="1235.6" width="1.2" height="1.0" fill="#ffffff"/><rect x="202.7" y="1249.8" width="1.6" height="1.3" fill="#9a9a9a"/><rect x="256.4" y="1285.9" width="1.6" height="1.3" fill="#ffffff"/><rect x="299.0" y="1234.5" width="1.6" height="1.3" fill="#eeeeee"/><rect x="313.2" y="1293.9" width="1.6" height="1.3" fill="#ffffff"/><rect x="235.2" y="1225.9" width="1.2" height="1.0" fill="#eeeeee"/><rect x="296.4" y="1266.5" width="2.4" height="1.9" fill="#ffffff"/><rect x="303.8" y="1291.6" width="1.6" height="1.3" fill="#b5b5b5"/><rect x="251.7" y="1279.4" width="2.4" height="1.9" fill="#ffffff"/><rect x="238.2" y="1229.7" width="1.2" height="1.0" fill="#ffffff"/><rect x="251.2" y="1241.7" width="2.4" height="1.9" fill="#ffffff"/><rect x="250.3" y="1250.8" width="1.6" height="1.3" fill="#eeeeee"/><rect x="302.2" y="1267.4" width="1.2" height="1.0" fill="#eeeeee"/><rect x="237.7" y="1239.8" width="1.6" height="1.3" fill="#ffffff"/><rect x="284.8" y="1240.8" width="2.4" height="1.9" fill="#b5b5b5"/><rect x="257.0" y="1262.5" width="1.6" height="1.3" fill="#ffffff"/><rect x="235.4" y="1251.2" width="1.2" height="1.0" fill="#9a9a9a"/><rect x="250.4" y="1229.6" width="1.6" height="1.3" fill="#ffffff"/><rect x="231.4" y="1252.4" width="1.6" height="1.3" fill="#f5f5f5"/><rect x="334.1" y="1228.2" width="1.2" height="1.0" fill="#f5f5f5"/><rect x="228.9" y="1246.8" width="1.6" height="1.3" fill="#c4c4c4"/><rect x="350.2" y="1236.1" width="1.2" height="1.0" fill="#ffffff"/><rect x="210.4" y="1238.1" width="2.0" height="1.6" fill="#c4c4c4"/><rect x="208.9" y="1236.3" width="1.2" height="1.0" fill="#f5f5f5"/><rect x="308.0" y="1284.8" width="1.2" height="1.0" fill="#9a9a9a"/><rect x="268.5" y="1210.4" width="2.0" height="1.6" fill="#ffffff"/><rect x="253.6" y="1264.4" width="1.2" height="1.0" fill="#eeeeee"/><rect x="359.3" y="1253.2" width="1.2" height="1.0" fill="#9a9a9a"/><rect x="375.2" y="1234.1" width="1.2" height="1.0" fill="#eeeeee"/><rect x="240.8" y="1270.4" width="1.6" height="1.3" fill="#b5b5b5"/><rect x="367.1" y="1245.8" width="1.2" height="1.0" fill="#eeeeee"/><rect x="350.8" y="1260.3" width="1.6" height="1.3" fill="#ffffff"/><rect x="337.3" y="1220.5" width="1.2" height="1.0" fill="#b5b5b5"/><rect x="356.9" y="1255.6" width="2.4" height="1.9" fill="#9a9a9a"/><rect x="282.7" y="1245.4" width="2.4" height="1.9" fill="#ffffff"/><rect x="277.7" y="1270.3" width="2.0" height="1.6" fill="#9a9a9a"/><rect x="332.2" y="1237.2" width="2.4" height="1.9" fill="#ffffff"/><rect x="320.4" y="1262.9" width="2.0" height="1.6" fill="#ffffff"/><rect x="342.3" y="1232.7" width="2.4" height="1.9" fill="#ffffff"/><rect x="279.1" y="1239.2" width="2.4" height="1.9" fill="#f5f5f5"/><rect x="311.1" y="1273.4" width="2.4" height="1.9" fill="#c4c4c4"/><rect x="326.2" y="1286.8" width="2.0" height="1.6" fill="#ffffff"/><rect x="263.5" y="1272.5" width="1.6" height="1.3" fill="#eeeeee"/><rect x="292.8" y="1235.3" width="2.4" height="1.9" fill="#9a9a9a"/><rect x="334.6" y="1244.4" width="2.0" height="1.6" fill="#c4c4c4"/><rect x="255.9" y="1251.3" width="1.2" height="1.0" fill="#eeeeee"/><rect x="317.3" y="1295.4" width="1.6" height="1.3" fill="#b5b5b5"/><rect x="207.1" y="1260.4" width="2.0" height="1.6" fill="#b5b5b5"/><rect x="296.6" y="1268.8" width="1.2" height="1.0" fill="#ffffff"/><rect x="229.9" y="1235.6" width="2.4" height="1.9" fill="#c4c4c4"/><rect x="301.0" y="1271.8" width="2.4" height="1.9" fill="#ffffff"/><rect x="237.0" y="1240.7" width="2.4" height="1.9" fill="#b5b5b5"/><rect x="313.3" y="1250.3" width="2.0" height="1.6" fill="#eeeeee"/><rect x="328.8" y="1240.8" width="2.4" height="1.9" fill="#ffffff"/><rect x="247.2" y="1212.2" width="2.0" height="1.6" fill="#f5f5f5"/><rect x="262.0" y="1204.5" width="1.6" height="1.3" fill="#ffffff"/><rect x="295.9" y="1210.1" width="2.4" height="1.9" fill="#f5f5f5"/><rect x="329.9" y="1269.6" width="2.0" height="1.6" fill="#ffffff"/><rect x="295.9" y="1252.9" width="2.4" height="1.9" fill="#eeeeee"/><rect x="258.8" y="1232.0" width="2.4" height="1.9" fill="#eeeeee"/><rect x="305.5" y="1273.6" width="1.2" height="1.0" fill="#9a9a9a"/><rect x="258.4" y="1258.8" width="2.0" height="1.6" fill="#ffffff"/><rect x="305.2" y="1235.1" width="1.6" height="1.3" fill="#9a9a9a"/><rect x="273.5" y="1233.1" width="1.6" height="1.3" fill="#ffffff"/><rect x="264.1" y="1235.7" width="1.2" height="1.0" fill="#ffffff"/><rect x="304.6" y="1210.1" width="1.6" height="1.3" fill="#b5b5b5"/><rect x="325.0" y="1216.0" width="1.2" height="1.0" fill="#ffffff"/><rect x="238.8" y="1221.1" width="2.0" height="1.6" fill="#ffffff"/><rect x="321.3" y="1225.2" width="2.4" height="1.9" fill="#b5b5b5"/><rect x="221.9" y="1237.0" width="2.0" height="1.6" fill="#9a9a9a"/><rect x="364.0" y="1231.0" width="1.6" height="1.3" fill="#ffffff"/><rect x="327.3" y="1221.1" width="2.0" height="1.6" fill="#9a9a9a"/><rect x="297.6" y="1301.8" width="1.2" height="1.0" fill="#eeeeee"/><rect x="214.0" y="1256.1" width="1.6" height="1.3" fill="#ffffff"/><rect x="309.4" y="1291.5" width="1.6" height="1.3" fill="#b5b5b5"/><rect x="318.3" y="1250.5" width="1.2" height="1.0" fill="#ffffff"/><rect x="273.0" y="1289.5" width="2.0" height="1.6" fill="#c4c4c4"/><rect x="305.4" y="1235.2" width="2.4" height="1.9" fill="#ffffff"/><rect x="277.5" y="1258.1" width="2.0" height="1.6" fill="#b5b5b5"/><rect x="355.0" y="1232.2" width="1.2" height="1.0" fill="#9a9a9a"/><rect x="310.4" y="1220.5" width="1.6" height="1.3" fill="#ffffff"/><rect x="290.9" y="1279.1" width="1.2" height="1.0" fill="#ffffff"/><rect x="341.7" y="1238.6" width="2.4" height="1.9" fill="#ffffff"/></g>
<g opacity="0.9"><ellipse cx="216.8" cy="1241.2" rx="3.2" ry="2.2" fill="#2e2e2e"/><ellipse cx="226.4" cy="1240.4" rx="3.2" ry="2.2" fill="#2e2e2e"/><ellipse cx="230.4" cy="1229.2" rx="3.2" ry="2.2" fill="#2e2e2e"/><ellipse cx="224.8" cy="1262.9" rx="3.2" ry="2.2" fill="#2e2e2e"/><ellipse cx="234.4" cy="1262.1" rx="3.2" ry="2.2" fill="#2e2e2e"/><ellipse cx="251.3" cy="1270.1" rx="3.2" ry="2.2" fill="#2e2e2e"/><ellipse cx="260.9" cy="1269.3" rx="3.2" ry="2.2" fill="#2e2e2e"/><ellipse cx="274.6" cy="1278.1" rx="3.2" ry="2.2" fill="#2e2e2e"/><ellipse cx="281.6" cy="1277.3" rx="3.2" ry="2.2" fill="#2e2e2e"/><ellipse cx="338.6" cy="1224.3" rx="3.2" ry="2.2" fill="#2e2e2e"/><ellipse cx="339.4" cy="1246" rx="3.2" ry="2.2" fill="#2e2e2e"/><ellipse cx="349" cy="1245.2" rx="3.2" ry="2.2" fill="#2e2e2e"/><ellipse cx="327.4" cy="1258.9" rx="3.2" ry="2.2" fill="#2e2e2e"/><ellipse cx="337" cy="1258.9" rx="3.2" ry="2.2" fill="#2e2e2e"/><ellipse cx="312.9" cy="1272.5" rx="3.2" ry="2.2" fill="#2e2e2e"/><ellipse cx="323.4" cy="1272.5" rx="3.2" ry="2.2" fill="#2e2e2e"/><ellipse cx="285.6" cy="1277.3" rx="3.2" ry="2.2" fill="#2e2e2e"/><ellipse cx="298" cy="1283" rx="3.2" ry="2.2" fill="#2e2e2e"/><ellipse cx="357" cy="1229" rx="3.2" ry="2.2" fill="#2e2e2e"/><ellipse cx="362" cy="1240" rx="3.2" ry="2.2" fill="#2e2e2e"/><ellipse cx="347" cy="1262" rx="3.2" ry="2.2" fill="#2e2e2e"/><ellipse cx="330" cy="1280" rx="3.2" ry="2.2" fill="#2e2e2e"/><ellipse cx="318" cy="1288" rx="3.2" ry="2.2" fill="#2e2e2e"/><ellipse cx="300" cy="1293" rx="3.2" ry="2.2" fill="#2e2e2e"/></g>
<g><rect x="184.5" y="1260.2" width="2.2" height="2" fill="#3a3a3a"/><rect x="189.5" y="1262.0" width="2.2" height="2" fill="#3a3a3a"/><rect x="194.4" y="1263.8" width="2.2" height="2" fill="#3a3a3a"/><rect x="199.4" y="1265.6" width="2.2" height="2" fill="#3a3a3a"/><rect x="204.3" y="1267.5" width="2.2" height="2" fill="#3a3a3a"/><rect x="209.2" y="1269.3" width="2.2" height="2" fill="#3a3a3a"/><rect x="214.2" y="1271.1" width="2.2" height="2" fill="#3a3a3a"/><rect x="219.1" y="1272.9" width="2.2" height="2" fill="#3a3a3a"/><rect x="224.0" y="1274.7" width="2.2" height="2" fill="#3a3a3a"/><rect x="229.0" y="1276.5" width="2.2" height="2" fill="#3a3a3a"/><rect x="233.9" y="1278.3" width="2.2" height="2" fill="#3a3a3a"/><rect x="238.9" y="1280.1" width="2.2" height="2" fill="#3a3a3a"/><rect x="243.8" y="1282.0" width="2.2" height="2" fill="#3a3a3a"/><rect x="248.7" y="1283.8" width="2.2" height="2" fill="#3a3a3a"/><rect x="253.7" y="1285.6" width="2.2" height="2" fill="#3a3a3a"/><rect x="258.6" y="1287.4" width="2.2" height="2" fill="#3a3a3a"/><rect x="263.6" y="1289.2" width="2.2" height="2" fill="#3a3a3a"/><rect x="268.5" y="1291.0" width="2.2" height="2" fill="#3a3a3a"/><rect x="273.4" y="1292.8" width="2.2" height="2" fill="#3a3a3a"/><rect x="278.4" y="1294.6" width="2.2" height="2" fill="#3a3a3a"/><rect x="283.3" y="1296.4" width="2.2" height="2" fill="#3a3a3a"/><rect x="288.2" y="1298.3" width="2.2" height="2" fill="#3a3a3a"/><rect x="293.2" y="1300.1" width="2.2" height="2" fill="#3a3a3a"/><rect x="298.1" y="1301.9" width="2.2" height="2" fill="#3a3a3a"/><rect x="303.1" y="1303.7" width="2.2" height="2" fill="#3a3a3a"/><rect x="376.2" y="1235.2" width="2" height="2" fill="#555"/><rect x="372.9" y="1238.6" width="2" height="2" fill="#555"/><rect x="369.7" y="1241.9" width="2" height="2" fill="#555"/><rect x="366.4" y="1245.3" width="2" height="2" fill="#555"/><rect x="363.2" y="1248.6" width="2" height="2" fill="#555"/><rect x="359.9" y="1252.0" width="2" height="2" fill="#555"/><rect x="356.7" y="1255.3" width="2" height="2" fill="#555"/><rect x="353.4" y="1258.7" width="2" height="2" fill="#555"/><rect x="350.2" y="1262.0" width="2" height="2" fill="#555"/><rect x="346.9" y="1265.4" width="2" height="2" fill="#555"/><rect x="343.7" y="1268.7" width="2" height="2" fill="#555"/><rect x="340.5" y="1272.0" width="2" height="2" fill="#555"/><rect x="337.2" y="1275.4" width="2" height="2" fill="#555"/><rect x="334.0" y="1278.7" width="2" height="2" fill="#555"/><rect x="330.7" y="1282.1" width="2" height="2" fill="#555"/><rect x="327.5" y="1285.4" width="2" height="2" fill="#555"/><rect x="324.2" y="1288.8" width="2" height="2" fill="#555"/><rect x="321.0" y="1292.1" width="2" height="2" fill="#555"/><rect x="317.7" y="1295.5" width="2" height="2" fill="#555"/><rect x="314.5" y="1298.8" width="2" height="2" fill="#555"/><rect x="311.2" y="1302.2" width="2" height="2" fill="#555"/></g>
<rect x="203" y="1250" width="9" height="7" fill="#8a8a8a" transform="rotate(-25 207.5 1253.5)"/>
<polygon points="303,1271 333,1240 336,1242 307,1273" fill="#f8f8f8"/>
<polygon points="235.5,1225.0 297.7,1244.4 299.3,1270.1 235.2,1252.4" fill="#52544e"/>
<polygon points="297.7,1244.4 331.4,1209.9 330.6,1236.0 299.3,1270.1" fill="#43453f"/>
<polygon points="235.5,1225.0 271.4,1192.2 331.4,1209.9 297.7,1244.4" fill="#7a7c73"/>
<g><ellipse cx="262.7" cy="1235.8" rx="1.7" ry="1.2" fill="#f2f2f2"/><ellipse cx="267" cy="1235" rx="2.1" ry="1.1" fill="#f2f2f2"/><ellipse cx="270" cy="1236.5" rx="1.7" ry="1.1" fill="#f2f2f2"/><ellipse cx="273.2" cy="1241" rx="2.5" ry="1.6" fill="#f2f2f2"/><ellipse cx="277.6" cy="1240.2" rx="2.5" ry="1.1" fill="#f2f2f2"/><ellipse cx="282.8" cy="1242" rx="1.8" ry="1.5" fill="#f2f2f2"/><ellipse cx="286" cy="1243.5" rx="1.6" ry="1.1" fill="#f2f2f2"/><ellipse cx="289" cy="1245.4" rx="2.2" ry="1.6" fill="#f2f2f2"/><ellipse cx="251.3" cy="1247.2" rx="2.5" ry="1.5" fill="#f2f2f2"/><ellipse cx="257.4" cy="1245.4" rx="1.9" ry="1.4" fill="#f2f2f2"/><ellipse cx="260" cy="1251.6" rx="2.5" ry="1.5" fill="#f2f2f2"/><ellipse cx="265.3" cy="1252.4" rx="2.6" ry="1.5" fill="#f2f2f2"/><ellipse cx="275.8" cy="1251.6" rx="2.4" ry="1.4" fill="#f2f2f2"/><ellipse cx="294.2" cy="1260.3" rx="2.0" ry="1.3" fill="#f2f2f2"/><ellipse cx="295" cy="1263" rx="2.5" ry="1.3" fill="#f2f2f2"/><ellipse cx="269" cy="1244" rx="1.6" ry="1.3" fill="#f2f2f2"/><ellipse cx="281" cy="1247" rx="2.5" ry="1.4" fill="#f2f2f2"/><ellipse cx="245" cy="1232" rx="3" ry="2" fill="#3c3d39"/><ellipse cx="252" cy="1240" rx="3" ry="2" fill="#3c3d39"/><ellipse cx="240" cy="1245" rx="3" ry="2" fill="#3c3d39"/><ellipse cx="258" cy="1231" rx="3" ry="2" fill="#3c3d39"/></g>
</svg>
</body></html>
